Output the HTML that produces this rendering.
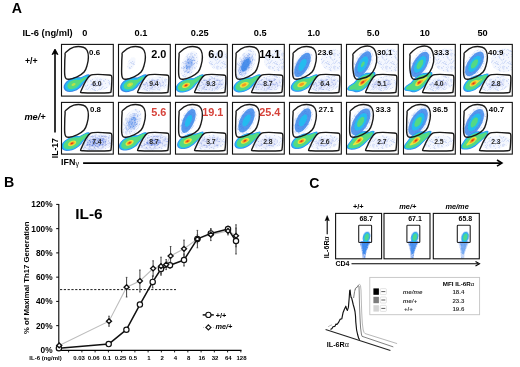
<!DOCTYPE html>
<html><head><meta charset="utf-8"><title>IL-6 Th17 figure</title>
<style>html,body{margin:0;padding:0;background:#fff;width:520px;height:367px;overflow:hidden}
svg text{font-family:'Liberation Sans',sans-serif;}</style></head>
<body>
<svg width="520" height="367" viewBox="0 0 520 367" style="display:block;font-family:'Liberation Sans',sans-serif;filter:blur(0.3px)"><defs>
<filter id="bl1" x="-30%" y="-30%" width="160%" height="160%"><feGaussianBlur stdDeviation="1.2"/></filter>
<filter id="bl2" x="-30%" y="-30%" width="160%" height="160%"><feGaussianBlur stdDeviation="2"/></filter>
<filter id="bl03" x="-10%" y="-10%" width="120%" height="120%"><feGaussianBlur stdDeviation="0.55"/></filter>
<filter id="bl05" x="-30%" y="-30%" width="160%" height="160%"><feGaussianBlur stdDeviation="0.7"/></filter>
<pattern id="pS" width="13" height="13" patternUnits="userSpaceOnUse"><rect width="13" height="13" fill="#f4f7fe"/><path d="M1.1,9.9h0.7v0.7h-0.7zM3.1,11.4h0.7v0.7h-0.7zM10.4,1.3h0.7v0.7h-0.7zM7.6,11.0h0.7v0.7h-0.7zM1.2,5.1h0.7v0.7h-0.7zM5.6,6.2h0.7v0.7h-0.7zM6.2,1.9h0.7v0.7h-0.7zM2.1,9.1h0.7v0.7h-0.7zM9.5,3.8h0.7v0.7h-0.7zM1.5,11.3h0.7v0.7h-0.7zM5.1,3.6h0.7v0.7h-0.7zM6.7,7.3h0.7v0.7h-0.7zM5.6,5.2h0.7v0.7h-0.7zM7.6,8.0h0.7v0.7h-0.7zM9.6,2.6h0.7v0.7h-0.7zM12.4,2.3h0.7v0.7h-0.7zM3.7,9.7h0.7v0.7h-0.7zM8.4,9.8h0.7v0.7h-0.7zM9.1,7.4h0.7v0.7h-0.7zM3.8,12.0h0.7v0.7h-0.7zM0.0,2.7h0.7v0.7h-0.7zM12.7,11.1h0.7v0.7h-0.7zM3.9,2.2h0.7v0.7h-0.7zM4.1,12.5h0.7v0.7h-0.7zM11.6,8.1h0.7v0.7h-0.7zM7.6,7.9h0.7v0.7h-0.7zM6.1,12.6h0.7v0.7h-0.7zM10.1,10.2h0.7v0.7h-0.7zM0.4,10.3h0.7v0.7h-0.7zM9.2,0.7h0.7v0.7h-0.7zM4.9,4.8h0.7v0.7h-0.7zM1.2,1.1h0.7v0.7h-0.7zM8.6,2.5h0.7v0.7h-0.7zM12.1,2.8h0.7v0.7h-0.7zM2.7,11.2h0.7v0.7h-0.7zM8.2,1.6h0.7v0.7h-0.7zM3.9,3.9h0.7v0.7h-0.7zM9.6,6.4h0.7v0.7h-0.7zM9.4,11.0h0.7v0.7h-0.7zM2.8,12.5h0.7v0.7h-0.7zM10.8,9.2h0.7v0.7h-0.7zM8.5,2.8h0.7v0.7h-0.7zM8.9,7.1h0.7v0.7h-0.7zM10.7,9.2h0.7v0.7h-0.7zM5.6,0.7h0.7v0.7h-0.7z" fill="#8aa6ea" opacity="0.7"/></pattern><pattern id="pM" width="13" height="13" patternUnits="userSpaceOnUse"><rect width="13" height="13" fill="#e0e8fb"/><path d="M8.8,12.5h0.65v0.65h-0.65zM4.8,0.0h0.65v0.65h-0.65zM7.7,4.4h0.65v0.65h-0.65zM8.7,10.0h0.65v0.65h-0.65zM8.7,8.9h0.65v0.65h-0.65zM6.8,7.3h0.65v0.65h-0.65zM7.2,8.6h0.65v0.65h-0.65zM2.6,11.4h0.65v0.65h-0.65zM6.4,8.9h0.65v0.65h-0.65zM1.6,7.1h0.65v0.65h-0.65zM6.2,7.3h0.65v0.65h-0.65zM7.0,8.7h0.65v0.65h-0.65zM10.1,4.2h0.65v0.65h-0.65zM5.1,8.7h0.65v0.65h-0.65zM0.3,8.0h0.65v0.65h-0.65zM6.9,10.2h0.65v0.65h-0.65zM2.7,6.2h0.65v0.65h-0.65zM9.6,0.4h0.65v0.65h-0.65zM5.1,7.0h0.65v0.65h-0.65zM4.9,11.1h0.65v0.65h-0.65zM11.8,8.3h0.65v0.65h-0.65zM5.1,8.4h0.65v0.65h-0.65zM4.5,5.1h0.65v0.65h-0.65zM4.5,4.6h0.65v0.65h-0.65zM6.2,9.3h0.65v0.65h-0.65zM1.2,1.0h0.65v0.65h-0.65zM7.1,11.3h0.65v0.65h-0.65zM12.0,11.4h0.65v0.65h-0.65zM7.3,12.5h0.65v0.65h-0.65zM9.7,1.8h0.65v0.65h-0.65zM12.3,1.5h0.65v0.65h-0.65zM10.9,11.6h0.65v0.65h-0.65zM9.7,5.2h0.65v0.65h-0.65zM10.6,3.5h0.65v0.65h-0.65zM10.7,5.0h0.65v0.65h-0.65zM3.3,8.6h0.65v0.65h-0.65zM6.3,2.1h0.65v0.65h-0.65zM4.5,6.3h0.65v0.65h-0.65zM3.4,8.6h0.65v0.65h-0.65zM7.4,9.4h0.65v0.65h-0.65zM4.1,0.2h0.65v0.65h-0.65zM8.0,10.5h0.65v0.65h-0.65zM7.6,5.6h0.65v0.65h-0.65zM1.4,5.7h0.65v0.65h-0.65zM5.8,7.3h0.65v0.65h-0.65zM5.1,3.6h0.65v0.65h-0.65zM9.2,11.5h0.65v0.65h-0.65zM1.1,2.8h0.65v0.65h-0.65zM2.2,7.1h0.65v0.65h-0.65zM6.7,2.2h0.65v0.65h-0.65zM5.3,8.0h0.65v0.65h-0.65zM8.6,11.7h0.65v0.65h-0.65zM4.3,11.5h0.65v0.65h-0.65zM2.6,1.8h0.65v0.65h-0.65zM12.1,8.1h0.65v0.65h-0.65zM3.2,11.6h0.65v0.65h-0.65zM1.9,2.6h0.65v0.65h-0.65zM3.6,5.4h0.65v0.65h-0.65zM4.4,9.3h0.65v0.65h-0.65zM2.9,9.6h0.65v0.65h-0.65zM7.0,5.9h0.65v0.65h-0.65zM12.2,8.3h0.65v0.65h-0.65zM1.6,8.7h0.65v0.65h-0.65zM5.4,4.6h0.65v0.65h-0.65zM8.7,8.5h0.65v0.65h-0.65zM11.5,7.5h0.65v0.65h-0.65zM13.0,9.1h0.65v0.65h-0.65zM1.9,6.7h0.65v0.65h-0.65zM7.0,4.4h0.65v0.65h-0.65zM11.5,5.6h0.65v0.65h-0.65zM0.7,12.0h0.65v0.65h-0.65zM7.6,2.4h0.65v0.65h-0.65zM2.3,1.9h0.65v0.65h-0.65zM10.0,0.2h0.65v0.65h-0.65zM12.2,11.1h0.65v0.65h-0.65zM7.0,12.9h0.65v0.65h-0.65zM0.1,3.1h0.65v0.65h-0.65zM0.8,3.5h0.65v0.65h-0.65zM5.4,2.6h0.65v0.65h-0.65zM11.0,7.8h0.65v0.65h-0.65zM3.1,6.3h0.65v0.65h-0.65zM8.7,10.7h0.65v0.65h-0.65zM5.3,2.7h0.65v0.65h-0.65zM3.4,11.4h0.65v0.65h-0.65zM9.2,6.0h0.65v0.65h-0.65zM4.0,10.5h0.65v0.65h-0.65zM4.8,10.4h0.65v0.65h-0.65zM9.9,11.8h0.65v0.65h-0.65zM6.4,6.5h0.65v0.65h-0.65zM10.2,7.9h0.65v0.65h-0.65zM6.7,7.3h0.65v0.65h-0.65zM2.1,2.5h0.65v0.65h-0.65zM5.8,6.5h0.65v0.65h-0.65zM11.3,12.0h0.65v0.65h-0.65zM7.3,11.8h0.65v0.65h-0.65z" fill="#6a94ea" opacity="0.8"/></pattern><pattern id="pD" width="13" height="13" patternUnits="userSpaceOnUse"><rect width="13" height="13" fill="#b0c6f4"/><path d="M0.3,12.7h0.65v0.65h-0.65zM8.6,11.6h0.65v0.65h-0.65zM4.2,2.8h0.65v0.65h-0.65zM1.8,2.0h0.65v0.65h-0.65zM1.8,6.4h0.65v0.65h-0.65zM10.3,7.5h0.65v0.65h-0.65zM12.5,4.5h0.65v0.65h-0.65zM6.8,7.7h0.65v0.65h-0.65zM5.0,8.8h0.65v0.65h-0.65zM6.6,10.6h0.65v0.65h-0.65zM10.8,3.1h0.65v0.65h-0.65zM9.7,8.4h0.65v0.65h-0.65zM0.8,0.8h0.65v0.65h-0.65zM2.8,0.8h0.65v0.65h-0.65zM11.3,0.7h0.65v0.65h-0.65zM6.4,1.5h0.65v0.65h-0.65zM8.6,10.2h0.65v0.65h-0.65zM10.1,4.8h0.65v0.65h-0.65zM8.3,6.4h0.65v0.65h-0.65zM9.5,5.9h0.65v0.65h-0.65zM7.1,2.7h0.65v0.65h-0.65zM3.0,0.6h0.65v0.65h-0.65zM2.4,2.4h0.65v0.65h-0.65zM12.9,11.2h0.65v0.65h-0.65zM0.1,4.4h0.65v0.65h-0.65zM9.0,5.5h0.65v0.65h-0.65zM11.4,3.4h0.65v0.65h-0.65zM3.0,9.6h0.65v0.65h-0.65zM0.6,9.1h0.65v0.65h-0.65zM5.2,5.0h0.65v0.65h-0.65zM4.3,6.6h0.65v0.65h-0.65zM6.0,5.1h0.65v0.65h-0.65zM5.6,7.5h0.65v0.65h-0.65zM12.2,7.7h0.65v0.65h-0.65zM1.6,7.5h0.65v0.65h-0.65zM12.3,11.7h0.65v0.65h-0.65zM0.6,12.4h0.65v0.65h-0.65zM12.2,0.7h0.65v0.65h-0.65zM4.3,4.9h0.65v0.65h-0.65zM9.5,0.5h0.65v0.65h-0.65zM0.0,4.9h0.65v0.65h-0.65zM5.8,10.4h0.65v0.65h-0.65zM8.8,8.8h0.65v0.65h-0.65zM8.2,7.4h0.65v0.65h-0.65zM10.5,1.1h0.65v0.65h-0.65zM2.0,10.5h0.65v0.65h-0.65zM5.2,8.0h0.65v0.65h-0.65zM8.0,3.9h0.65v0.65h-0.65zM0.4,10.2h0.65v0.65h-0.65zM10.9,0.5h0.65v0.65h-0.65zM5.4,2.4h0.65v0.65h-0.65zM3.2,10.3h0.65v0.65h-0.65zM2.9,0.6h0.65v0.65h-0.65zM8.5,1.7h0.65v0.65h-0.65zM0.6,6.5h0.65v0.65h-0.65zM3.2,9.2h0.65v0.65h-0.65zM4.0,7.7h0.65v0.65h-0.65zM3.4,0.5h0.65v0.65h-0.65zM9.5,3.6h0.65v0.65h-0.65zM7.7,9.2h0.65v0.65h-0.65zM11.8,4.5h0.65v0.65h-0.65zM9.1,2.5h0.65v0.65h-0.65zM3.8,0.0h0.65v0.65h-0.65zM4.2,3.4h0.65v0.65h-0.65zM1.6,12.1h0.65v0.65h-0.65zM3.2,0.6h0.65v0.65h-0.65zM7.9,7.2h0.65v0.65h-0.65zM9.5,11.8h0.65v0.65h-0.65zM3.8,9.1h0.65v0.65h-0.65zM4.5,3.7h0.65v0.65h-0.65zM10.4,8.4h0.65v0.65h-0.65zM12.5,1.6h0.65v0.65h-0.65zM1.1,6.5h0.65v0.65h-0.65zM0.9,3.4h0.65v0.65h-0.65zM9.9,11.4h0.65v0.65h-0.65zM6.4,11.3h0.65v0.65h-0.65zM5.5,9.9h0.65v0.65h-0.65zM8.2,4.9h0.65v0.65h-0.65zM9.9,10.4h0.65v0.65h-0.65zM0.9,12.7h0.65v0.65h-0.65zM12.5,4.8h0.65v0.65h-0.65zM12.5,6.8h0.65v0.65h-0.65zM5.4,2.1h0.65v0.65h-0.65zM6.1,1.4h0.65v0.65h-0.65zM3.5,9.4h0.65v0.65h-0.65zM7.6,0.8h0.65v0.65h-0.65zM2.7,7.8h0.65v0.65h-0.65zM6.9,1.5h0.65v0.65h-0.65zM11.8,8.7h0.65v0.65h-0.65zM6.6,9.8h0.65v0.65h-0.65zM10.8,12.2h0.65v0.65h-0.65zM2.3,5.1h0.65v0.65h-0.65zM11.5,5.1h0.65v0.65h-0.65zM1.6,5.2h0.65v0.65h-0.65zM2.8,9.2h0.65v0.65h-0.65zM9.4,10.2h0.65v0.65h-0.65zM3.9,1.5h0.65v0.65h-0.65zM1.5,4.2h0.65v0.65h-0.65zM1.1,0.7h0.65v0.65h-0.65zM10.3,3.1h0.65v0.65h-0.65zM0.3,9.5h0.65v0.65h-0.65zM0.7,12.2h0.65v0.65h-0.65zM12.3,12.7h0.65v0.65h-0.65zM10.2,0.9h0.65v0.65h-0.65zM4.8,5.2h0.65v0.65h-0.65zM2.5,11.3h0.65v0.65h-0.65zM11.3,6.6h0.65v0.65h-0.65zM10.2,4.5h0.65v0.65h-0.65zM8.7,10.2h0.65v0.65h-0.65zM6.9,11.2h0.65v0.65h-0.65zM6.8,1.9h0.65v0.65h-0.65zM12.7,6.7h0.65v0.65h-0.65zM6.8,1.9h0.65v0.65h-0.65zM1.1,2.3h0.65v0.65h-0.65zM1.0,6.9h0.65v0.65h-0.65zM7.7,3.3h0.65v0.65h-0.65zM9.5,10.5h0.65v0.65h-0.65zM8.2,4.8h0.65v0.65h-0.65zM9.7,2.4h0.65v0.65h-0.65zM3.8,8.2h0.65v0.65h-0.65zM4.8,3.4h0.65v0.65h-0.65zM3.4,0.9h0.65v0.65h-0.65zM4.8,13.0h0.65v0.65h-0.65zM3.5,2.4h0.65v0.65h-0.65zM10.8,1.7h0.65v0.65h-0.65zM1.9,6.2h0.65v0.65h-0.65zM2.7,0.1h0.65v0.65h-0.65zM9.3,10.3h0.65v0.65h-0.65zM5.2,1.0h0.65v0.65h-0.65zM4.4,0.5h0.65v0.65h-0.65z" fill="#3a7ee8" opacity="0.85"/></pattern><pattern id="pL" width="13" height="13" patternUnits="userSpaceOnUse"><rect width="13" height="13" fill="#e8ecfb"/><path d="M12.6,12.9h0.9v0.9h-0.9zM6.7,9.5h0.9v0.9h-0.9zM12.1,5.6h0.9v0.9h-0.9zM11.7,2.6h0.9v0.9h-0.9zM9.5,1.6h0.9v0.9h-0.9zM0.4,5.4h0.9v0.9h-0.9zM8.4,8.5h0.9v0.9h-0.9zM0.8,10.7h0.9v0.9h-0.9zM0.1,6.0h0.9v0.9h-0.9zM11.0,11.1h0.9v0.9h-0.9zM4.0,10.5h0.9v0.9h-0.9zM9.7,11.0h0.9v0.9h-0.9zM6.9,4.3h0.9v0.9h-0.9zM10.2,6.1h0.9v0.9h-0.9zM8.3,2.1h0.9v0.9h-0.9zM12.6,7.6h0.9v0.9h-0.9zM6.2,0.6h0.9v0.9h-0.9zM11.1,6.1h0.9v0.9h-0.9zM10.7,2.1h0.9v0.9h-0.9zM7.6,6.2h0.9v0.9h-0.9zM6.6,2.4h0.9v0.9h-0.9zM5.6,0.0h0.9v0.9h-0.9zM8.4,5.5h0.9v0.9h-0.9zM2.5,5.6h0.9v0.9h-0.9zM5.7,7.0h0.9v0.9h-0.9zM8.4,1.6h0.9v0.9h-0.9zM4.0,6.5h0.9v0.9h-0.9zM2.8,3.9h0.9v0.9h-0.9zM1.4,1.1h0.9v0.9h-0.9zM10.5,5.3h0.9v0.9h-0.9zM11.4,8.7h0.9v0.9h-0.9zM10.8,3.9h0.9v0.9h-0.9zM9.2,9.3h0.9v0.9h-0.9zM7.9,10.3h0.9v0.9h-0.9zM0.8,0.2h0.9v0.9h-0.9zM11.4,2.8h0.9v0.9h-0.9zM6.2,3.7h0.9v0.9h-0.9zM8.9,7.7h0.9v0.9h-0.9zM1.6,6.3h0.9v0.9h-0.9zM9.7,7.4h0.9v0.9h-0.9zM1.9,1.0h0.9v0.9h-0.9zM12.5,3.7h0.9v0.9h-0.9zM9.2,2.1h0.9v0.9h-0.9zM6.9,9.7h0.9v0.9h-0.9zM8.5,8.9h0.9v0.9h-0.9zM3.0,4.0h0.9v0.9h-0.9zM6.5,11.4h0.9v0.9h-0.9zM1.1,1.8h0.9v0.9h-0.9zM3.6,0.2h0.9v0.9h-0.9zM3.7,4.9h0.9v0.9h-0.9zM2.1,8.7h0.9v0.9h-0.9zM5.4,12.3h0.9v0.9h-0.9zM0.8,6.6h0.9v0.9h-0.9zM0.3,1.8h0.9v0.9h-0.9zM4.3,7.8h0.9v0.9h-0.9z" fill="#8a9de2" opacity="0.75"/></pattern><pattern id="pB" width="13" height="13" patternUnits="userSpaceOnUse"><rect width="13" height="13" fill="#c3cff3"/><path d="M0.2,8.4h0.9v0.9h-0.9zM10.6,5.0h0.9v0.9h-0.9zM4.2,12.3h0.9v0.9h-0.9zM1.3,0.9h0.9v0.9h-0.9zM1.9,4.7h0.9v0.9h-0.9zM10.8,10.0h0.9v0.9h-0.9zM11.8,5.1h0.9v0.9h-0.9zM2.4,6.0h0.9v0.9h-0.9zM13.0,4.3h0.9v0.9h-0.9zM11.2,1.3h0.9v0.9h-0.9zM4.3,4.2h0.9v0.9h-0.9zM0.7,11.4h0.9v0.9h-0.9zM2.0,10.0h0.9v0.9h-0.9zM5.7,4.0h0.9v0.9h-0.9zM2.7,8.7h0.9v0.9h-0.9zM2.4,10.3h0.9v0.9h-0.9zM3.5,10.4h0.9v0.9h-0.9zM11.4,0.7h0.9v0.9h-0.9zM0.5,2.1h0.9v0.9h-0.9zM12.0,12.4h0.9v0.9h-0.9zM5.8,3.6h0.9v0.9h-0.9zM9.6,10.1h0.9v0.9h-0.9zM6.7,8.2h0.9v0.9h-0.9zM12.3,11.3h0.9v0.9h-0.9zM2.4,1.0h0.9v0.9h-0.9zM3.3,12.1h0.9v0.9h-0.9zM6.6,11.4h0.9v0.9h-0.9zM6.6,3.1h0.9v0.9h-0.9zM4.3,9.2h0.9v0.9h-0.9zM4.0,0.1h0.9v0.9h-0.9zM1.2,11.2h0.9v0.9h-0.9zM6.5,5.4h0.9v0.9h-0.9zM10.8,9.6h0.9v0.9h-0.9zM11.3,10.3h0.9v0.9h-0.9zM5.4,0.3h0.9v0.9h-0.9zM12.7,11.5h0.9v0.9h-0.9zM12.6,1.4h0.9v0.9h-0.9zM4.2,2.0h0.9v0.9h-0.9zM1.5,5.9h0.9v0.9h-0.9zM10.9,3.3h0.9v0.9h-0.9zM12.2,8.4h0.9v0.9h-0.9zM8.4,2.5h0.9v0.9h-0.9zM12.5,8.1h0.9v0.9h-0.9zM6.2,9.9h0.9v0.9h-0.9zM6.8,12.5h0.9v0.9h-0.9zM1.0,5.2h0.9v0.9h-0.9zM4.8,3.7h0.9v0.9h-0.9zM12.0,7.5h0.9v0.9h-0.9zM1.3,8.5h0.9v0.9h-0.9zM1.8,12.0h0.9v0.9h-0.9zM0.4,7.6h0.9v0.9h-0.9zM6.4,5.7h0.9v0.9h-0.9zM7.8,3.9h0.9v0.9h-0.9zM6.9,9.4h0.9v0.9h-0.9zM11.4,8.3h0.9v0.9h-0.9zM8.8,0.9h0.9v0.9h-0.9zM8.3,3.9h0.9v0.9h-0.9zM7.8,2.2h0.9v0.9h-0.9zM6.6,6.4h0.9v0.9h-0.9zM1.0,5.0h0.9v0.9h-0.9zM1.3,2.1h0.9v0.9h-0.9zM8.4,6.9h0.9v0.9h-0.9zM2.8,8.6h0.9v0.9h-0.9zM5.4,4.4h0.9v0.9h-0.9zM8.4,10.8h0.9v0.9h-0.9zM7.8,1.3h0.9v0.9h-0.9zM3.2,0.7h0.9v0.9h-0.9zM3.5,9.2h0.9v0.9h-0.9zM1.8,7.3h0.9v0.9h-0.9zM8.6,9.8h0.9v0.9h-0.9zM9.4,12.2h0.9v0.9h-0.9zM1.7,6.6h0.9v0.9h-0.9zM3.5,10.6h0.9v0.9h-0.9zM1.9,8.4h0.9v0.9h-0.9zM8.0,6.7h0.9v0.9h-0.9zM3.8,6.5h0.9v0.9h-0.9zM11.3,12.9h0.9v0.9h-0.9zM3.5,4.5h0.9v0.9h-0.9zM8.4,5.5h0.9v0.9h-0.9zM8.3,6.2h0.9v0.9h-0.9zM12.2,8.3h0.9v0.9h-0.9zM9.4,0.8h0.9v0.9h-0.9zM12.1,8.5h0.9v0.9h-0.9zM7.6,0.5h0.9v0.9h-0.9zM0.0,4.9h0.9v0.9h-0.9zM4.2,5.8h0.9v0.9h-0.9zM9.6,7.4h0.9v0.9h-0.9zM4.5,7.4h0.9v0.9h-0.9zM8.6,7.8h0.9v0.9h-0.9zM1.5,0.3h0.9v0.9h-0.9z" fill="#5a78dc" opacity="0.85"/></pattern></defs><text x="11.7" y="12.8" font-size="14.2" font-weight="bold">A</text>
<text x="22.5" y="36.3" font-size="9.3" font-weight="bold" font-style="normal" text-anchor="start" fill="#000" >IL-6 (ng/ml)</text>
<text x="84.7" y="36.2" font-size="9.2" font-weight="bold" font-style="normal" text-anchor="middle" fill="#000" >0</text>
<text x="141" y="36.2" font-size="9.2" font-weight="bold" font-style="normal" text-anchor="middle" fill="#000" >0.1</text>
<text x="199.8" y="36.2" font-size="9.2" font-weight="bold" font-style="normal" text-anchor="middle" fill="#000" >0.25</text>
<text x="260.2" y="36.2" font-size="9.2" font-weight="bold" font-style="normal" text-anchor="middle" fill="#000" >0.5</text>
<text x="313.8" y="36.2" font-size="9.2" font-weight="bold" font-style="normal" text-anchor="middle" fill="#000" >1.0</text>
<text x="373.2" y="36.2" font-size="9.2" font-weight="bold" font-style="normal" text-anchor="middle" fill="#000" >5.0</text>
<text x="424.8" y="36.2" font-size="9.2" font-weight="bold" font-style="normal" text-anchor="middle" fill="#000" >10</text>
<text x="482.6" y="36.2" font-size="9.2" font-weight="bold" font-style="normal" text-anchor="middle" fill="#000" >50</text>
<text x="24.9" y="64.4" font-size="8.8" font-weight="bold" font-style="normal" text-anchor="start" fill="#000" >+/+</text>
<text x="24.4" y="119.9" font-size="9.2" font-weight="bold" font-style="italic" text-anchor="start" fill="#000" >me/+</text>
<g>
<clipPath id="cp00"><rect x="61.5" y="44.4" width="51.8" height="51.7"/></clipPath>
<g clip-path="url(#cp00)">
<path d="M96.1,91.3 89.6,91.2 84.7,89.8 82.9,88.5 82.1,87.3 81.8,85.8 82.3,84.3 84.2,82.0 87.4,80.0 91.6,78.5 96.1,77.6 100.9,77.4 105.1,77.9 108.4,79.1 110.5,80.8 111.2,82.3 111.0,84.0 109.9,85.8 108.2,87.3 102.9,89.9 96.1,91.3Z" fill="url(#pS)"/>
<path d="M96.9,87.3 93.9,87.3 91.6,86.8 90.4,85.8 90.3,84.5 92.1,82.8 96.1,81.5 99.9,81.6 102.4,82.8 102.7,84.0 101.6,85.5 99.8,86.5 96.9,87.3Z" fill="url(#pL)"/>
<g filter="url(#bl03)">
<path d="M72.4,91.8 69.6,92.0 67.4,91.7 65.4,90.8 64.1,89.3 63.6,87.5 63.8,85.5 64.8,83.5 66.4,81.5 69.4,79.2 73.1,77.6 76.4,77.0 80.9,77.2 86.9,74.6 88.6,74.3 89.6,74.6 89.9,75.8 89.0,77.5 84.2,82.5 80.6,87.5 76.9,90.2 72.4,91.8Z" fill="#3a86ea" fill-rule="evenodd" opacity="1"/>
<path d="M72.4,90.8 70.1,91.0 68.1,90.7 66.4,89.8 65.4,88.5 65.0,87.0 65.2,85.3 66.1,83.5 67.6,81.7 70.1,79.9 73.1,78.6 76.1,78.0 80.1,78.2 86.1,75.4 87.6,75.2 88.6,75.5 88.7,76.5 87.7,78.3 82.9,82.8 79.4,87.3 76.1,89.5 72.4,90.8Z" fill="#22c0f0" fill-rule="evenodd" opacity="1"/>
<path d="M72.6,89.0 70.9,89.2 69.4,88.9 68.3,88.3 67.6,87.3 67.4,86.0 67.6,84.8 69.5,82.3 71.1,81.1 73.1,80.3 75.6,79.8 79.4,80.1 84.6,77.2 85.9,76.9 86.5,77.0 86.5,77.8 85.6,79.0 81.0,82.8 77.6,86.6 75.4,88.1 72.6,89.0Z" fill="#55da80" fill-rule="evenodd" opacity="1"/>
<path d="M73.9,85.8 72.9,86.0 71.9,85.8 71.5,85.3 71.6,84.5 73.1,83.2 74.1,83.0 75.1,83.2 75.6,83.8 75.5,84.5 73.9,85.8Z" fill="#b9e04a" fill-rule="evenodd" opacity="1"/>
</g>
</g>
<path d="M65.90,52.30 C67.64,50.66 70.32,48.22 73.80,47.20 C77.28,46.18 80.62,46.50 83.30,47.20 C85.98,47.90 86.18,48.74 87.20,50.70 C88.22,52.66 88.40,54.16 88.40,57.00 C88.40,59.84 88.06,61.90 87.20,64.90 C86.34,67.90 86.14,69.62 84.10,72.00 C82.06,74.38 80.00,75.36 77.00,76.80 C74.00,78.24 71.48,79.20 69.10,79.20 C66.72,79.20 65.98,79.66 65.10,76.80 C64.22,73.94 64.70,69.18 64.70,64.90 C64.70,60.62 64.86,57.92 65.10,55.40 C65.34,52.88 64.16,53.94 65.90,52.30Z" fill="none" stroke="#1a1a1a" stroke-width="1.4"/>
<path d="M90.40,75.40 C93.66,73.56 106.50,74.79 109.00,75.00 C111.50,75.21 111.55,75.38 111.80,77.20 C112.05,79.02 111.46,88.78 111.10,90.60 C110.74,92.42 111.97,92.54 108.70,92.80 C105.43,93.06 86.32,93.03 83.10,92.80 C79.88,92.57 80.25,92.83 81.10,90.80 C81.95,88.77 87.15,77.24 90.40,75.40Z" fill="none" stroke="#1a1a1a" stroke-width="1.4"/>
<rect x="61.5" y="44.4" width="51.8" height="51.7" fill="none" stroke="#111" stroke-width="1.1"/>
<text x="89.1" y="55.099999999999994" font-size="7.9" font-weight="bold" font-style="normal" text-anchor="start" fill="#000" >0.6</text>
<text x="96.9" y="85.8" font-size="6.8" font-weight="bold" font-style="normal" text-anchor="middle" fill="#262626" >6.0</text>
</g>
<g>
<clipPath id="cp01"><rect x="61.5" y="102.4" width="51.8" height="51.7"/></clipPath>
<g clip-path="url(#cp01)">
<path d="M94.4,151.3 86.6,150.9 80.9,148.9 79.1,147.5 78.0,145.8 77.8,144.0 78.5,142.0 80.9,139.3 84.6,137.0 89.4,135.1 94.9,133.9 100.6,133.4 105.9,133.8 110.1,134.9 113.4,136.8 113.4,144.3 111.7,145.8 108.6,147.7 104.4,149.4 99.6,150.6 94.4,151.3Z" fill="url(#pS)"/>
<path d="M95.6,149.8 89.1,149.7 83.9,148.1 82.1,146.9 81.1,145.5 80.8,144.0 81.3,142.3 83.4,139.9 86.7,137.8 91.1,136.1 96.1,135.1 101.1,134.9 105.6,135.5 109.1,136.7 111.4,138.5 112.1,140.3 111.9,142.0 110.8,143.8 108.8,145.5 102.9,148.4 95.6,149.8Z" fill="url(#pL)"/>
<path d="M96.6,147.0 92.4,147.1 88.9,146.3 86.7,144.5 86.7,142.5 87.8,141.0 90.1,139.5 96.1,137.8 102.4,138.0 104.6,138.8 106.1,140.0 106.4,142.0 104.6,144.3 101.1,146.0 96.6,147.0Z" fill="url(#pB)"/>
<g filter="url(#bl03)">
<path d="M69.4,150.8 66.6,150.9 64.4,150.5 62.6,149.5 61.7,148.3 61.7,144.5 62.9,142.5 64.6,140.7 67.9,138.4 71.6,136.7 75.4,135.9 79.9,135.9 86.6,132.6 88.4,132.3 89.6,132.6 89.9,133.8 88.8,135.8 83.4,141.0 81.1,144.3 79.4,146.1 77.1,147.8 74.6,149.2 72.1,150.2 69.4,150.8Z" fill="#3a86ea" fill-rule="evenodd" opacity="1"/>
<path d="M68.9,150.3 66.6,150.3 64.6,149.8 63.1,148.8 62.3,147.5 62.2,145.8 62.7,144.0 63.9,142.3 65.6,140.5 68.4,138.7 71.9,137.2 75.1,136.5 79.6,136.5 86.4,133.1 88.1,132.8 89.1,133.2 89.1,134.5 88.0,136.3 82.6,141.3 80.1,144.5 78.4,146.3 73.9,149.0 71.4,149.8 68.9,150.3Z" fill="#22c0f0" fill-rule="evenodd" opacity="1"/>
<path d="M68.6,149.3 66.9,149.1 65.4,148.6 64.3,147.8 63.7,146.5 63.7,145.3 64.2,143.8 65.3,142.3 66.9,140.7 69.4,139.1 71.9,138.1 74.9,137.5 79.1,137.6 85.4,134.1 87.1,133.7 88.0,134.0 88.0,135.0 86.8,136.8 81.4,141.3 78.8,144.5 77.1,146.1 72.9,148.4 68.6,149.3Z" fill="#55da80" fill-rule="evenodd" opacity="1"/>
<path d="M71.9,146.0 69.9,146.2 68.4,145.7 67.9,144.5 68.6,143.0 70.1,141.7 72.1,140.8 74.1,140.5 75.7,141.0 76.3,142.0 75.7,143.5 74.1,145.0 71.9,146.0Z" fill="#e8e43c" fill-rule="evenodd" opacity="1"/>
<path d="M71.9,145.1 70.6,145.2 69.7,144.8 69.4,144.0 70.0,143.0 70.9,142.3 72.4,141.7 73.6,141.6 74.4,142.0 74.6,142.8 74.1,143.7 71.9,145.1Z" fill="#f39a22" fill-rule="evenodd" opacity="1"/>
<path d="M71.6,144.3 70.8,144.0 70.9,143.3 72.1,142.5 73.1,142.7 73.1,143.5 71.6,144.3Z" fill="#e2341c" fill-rule="evenodd" opacity="1"/>
</g>
</g>
<path d="M65.90,110.30 C67.64,108.66 70.32,106.22 73.80,105.20 C77.28,104.18 80.62,104.50 83.30,105.20 C85.98,105.90 86.18,106.74 87.20,108.70 C88.22,110.66 88.40,112.16 88.40,115.00 C88.40,117.84 88.06,119.90 87.20,122.90 C86.34,125.90 86.14,127.62 84.10,130.00 C82.06,132.38 80.00,133.36 77.00,134.80 C74.00,136.24 71.48,137.20 69.10,137.20 C66.72,137.20 65.98,137.66 65.10,134.80 C64.22,131.94 64.70,127.18 64.70,122.90 C64.70,118.62 64.86,115.92 65.10,113.40 C65.34,110.88 64.16,111.94 65.90,110.30Z" fill="none" stroke="#1a1a1a" stroke-width="1.4"/>
<path d="M90.40,133.40 C93.66,131.56 106.50,132.79 109.00,133.00 C111.50,133.21 111.55,133.38 111.80,135.20 C112.05,137.02 111.46,146.78 111.10,148.60 C110.74,150.42 111.97,150.54 108.70,150.80 C105.43,151.06 86.32,151.03 83.10,150.80 C79.88,150.57 80.25,150.83 81.10,148.80 C81.95,146.77 87.15,135.24 90.40,133.40Z" fill="none" stroke="#1a1a1a" stroke-width="1.4"/>
<rect x="61.5" y="102.4" width="51.8" height="51.7" fill="none" stroke="#111" stroke-width="1.1"/>
<text x="90.0" y="112.4" font-size="7.9" font-weight="bold" font-style="normal" text-anchor="start" fill="#000" >0.8</text>
<text x="96.9" y="143.8" font-size="6.8" font-weight="bold" font-style="normal" text-anchor="middle" fill="#262626" >7.4</text>
</g>
<g>
<clipPath id="cp10"><rect x="118.5" y="44.4" width="51.8" height="51.7"/></clipPath>
<g clip-path="url(#cp10)">
<path d="M152.1,92.0 145.4,91.8 140.1,90.1 138.5,88.8 137.5,87.3 137.4,85.8 138.0,84.0 140.3,81.5 143.9,79.4 148.4,77.8 153.4,76.9 158.4,76.7 163.1,77.3 166.6,78.6 168.9,80.5 169.6,82.3 169.4,84.0 168.1,86.0 166.0,87.8 159.9,90.6 152.1,92.0Z" fill="url(#pS)"/>
<path d="M153.9,89.5 148.9,89.6 144.9,88.6 142.6,86.8 142.6,84.5 143.9,82.8 146.2,81.3 152.9,79.3 159.6,79.4 162.4,80.3 164.0,81.5 164.6,83.8 162.8,86.3 159.1,88.3 153.9,89.5Z" fill="url(#pL)"/>
<path d="M130.4,69.6 128.9,69.4 127.7,68.0 127.4,65.8 127.8,63.3 128.8,60.8 130.4,58.7 132.1,57.4 133.9,57.3 134.9,58.0 135.5,59.5 135.2,63.5 133.1,67.6 131.9,68.8 130.4,69.6Z" fill="url(#pS)"/>
<g filter="url(#bl03)">
<path d="M128.6,92.0 125.9,92.2 123.6,91.8 121.9,90.9 120.6,89.5 120.1,87.8 120.3,85.8 121.4,83.5 123.1,81.5 126.4,79.1 129.9,77.7 133.1,77.2 137.4,77.5 143.9,74.6 145.6,74.3 146.6,74.6 146.9,75.8 146.0,77.5 140.5,83.0 137.0,87.8 133.4,90.4 128.6,92.0Z" fill="#3a86ea" fill-rule="evenodd" opacity="1"/>
<path d="M128.6,91.0 126.4,91.2 124.4,90.8 122.7,89.8 121.8,88.5 121.5,87.0 121.8,85.3 122.7,83.5 124.3,81.8 126.9,79.9 129.9,78.7 132.9,78.2 136.9,78.5 143.1,75.5 144.6,75.2 145.6,75.5 145.7,76.5 144.7,78.3 139.4,83.0 135.8,87.5 132.4,89.9 128.6,91.0Z" fill="#22c0f0" fill-rule="evenodd" opacity="1"/>
<path d="M129.6,89.3 127.9,89.5 126.1,89.3 124.9,88.7 124.0,87.8 123.7,86.5 123.8,85.3 124.6,83.8 125.9,82.4 128.1,80.9 130.6,80.1 136.6,80.1 141.4,77.2 142.9,76.7 143.6,76.9 143.6,77.8 142.7,79.0 137.6,82.9 134.1,87.0 132.1,88.4 129.6,89.3Z" fill="#55da80" fill-rule="evenodd" opacity="1"/>
<path d="M130.1,86.8 128.6,86.9 127.5,86.5 127.0,85.5 127.3,84.5 128.2,83.5 129.6,82.7 131.1,82.4 132.5,82.8 133.1,83.5 132.8,84.8 131.7,86.0 130.1,86.8Z" fill="#b9e04a" fill-rule="evenodd" opacity="1"/>
<path d="M129.9,85.6 128.9,85.3 129.0,84.5 130.1,83.8 131.1,84.0 130.9,85.0 129.9,85.6Z" fill="#e8e43c" fill-rule="evenodd" opacity="1"/>
</g>
</g>
<path d="M122.90,52.30 C124.64,50.66 127.32,48.22 130.80,47.20 C134.28,46.18 137.62,46.50 140.30,47.20 C142.98,47.90 143.18,48.74 144.20,50.70 C145.22,52.66 145.40,54.16 145.40,57.00 C145.40,59.84 145.06,61.90 144.20,64.90 C143.34,67.90 143.14,69.62 141.10,72.00 C139.06,74.38 137.00,75.36 134.00,76.80 C131.00,78.24 128.48,79.20 126.10,79.20 C123.72,79.20 122.98,79.66 122.10,76.80 C121.22,73.94 121.70,69.18 121.70,64.90 C121.70,60.62 121.86,57.92 122.10,55.40 C122.34,52.88 121.16,53.94 122.90,52.30Z" fill="none" stroke="#1a1a1a" stroke-width="1.4"/>
<path d="M147.40,75.40 C150.66,73.56 163.50,74.79 166.00,75.00 C168.50,75.21 168.56,75.38 168.80,77.20 C169.05,79.02 168.46,88.78 168.10,90.60 C167.74,92.42 168.97,92.54 165.70,92.80 C162.43,93.06 143.32,93.03 140.10,92.80 C136.88,92.57 137.25,92.83 138.10,90.80 C138.95,88.77 144.15,77.24 147.40,75.40Z" fill="none" stroke="#1a1a1a" stroke-width="1.4"/>
<rect x="118.5" y="44.4" width="51.8" height="51.7" fill="none" stroke="#111" stroke-width="1.1"/>
<text x="166.4" y="58.0" font-size="10.9" font-weight="bold" font-style="normal" text-anchor="end" fill="#000" >2.0</text>
<text x="153.9" y="85.8" font-size="6.8" font-weight="bold" font-style="normal" text-anchor="middle" fill="#262626" >9.4</text>
</g>
<g>
<clipPath id="cp11"><rect x="118.5" y="102.4" width="51.8" height="51.7"/></clipPath>
<g clip-path="url(#cp11)">
<path d="M151.9,151.0 144.1,150.7 138.4,148.8 136.6,147.5 135.5,145.8 135.3,144.0 135.9,142.0 138.1,139.5 141.9,137.1 146.9,135.2 152.4,134.0 157.9,133.7 163.1,134.1 167.4,135.4 170.4,137.3 170.4,143.8 168.2,145.8 165.1,147.7 160.9,149.4 151.9,151.0Z" fill="url(#pS)"/>
<path d="M151.4,149.5 145.4,149.2 140.8,147.5 139.4,146.3 138.6,144.8 138.6,143.3 139.3,141.8 141.5,139.5 144.9,137.7 149.1,136.2 153.9,135.4 158.6,135.3 162.9,135.9 166.1,137.3 168.0,139.0 168.5,140.8 168.0,142.5 164.7,145.8 158.6,148.4 151.4,149.5Z" fill="url(#pL)"/>
<path d="M153.1,146.0 149.9,146.0 147.4,145.3 146.0,144.0 146.1,142.3 148.9,140.0 153.4,138.8 158.1,139.0 160.9,140.5 161.1,142.3 159.5,144.0 156.8,145.3 153.1,146.0Z" fill="url(#pB)"/>
<path d="M129.1,136.3 127.4,136.3 125.6,135.7 124.1,134.3 123.2,132.5 122.5,127.8 123.5,122.0 125.9,116.5 129.6,111.9 131.9,110.2 133.9,109.2 135.9,108.8 137.6,109.1 140.1,111.0 141.5,114.3 141.7,118.5 140.7,123.3 138.8,127.8 135.8,132.0 132.6,134.9 129.1,136.3Z" fill="url(#pS)"/>
<path d="M129.6,132.3 127.2,131.5 125.7,129.3 125.3,126.0 126.1,122.0 127.9,118.1 130.4,115.0 133.1,113.3 135.9,113.1 137.6,114.3 138.6,116.5 138.8,119.8 138.1,123.3 136.5,126.8 134.4,129.6 131.9,131.6 129.6,132.3Z" fill="url(#pM)"/>
<path d="M130.9,128.8 129.1,128.5 128.1,127.3 127.7,125.0 128.1,122.5 129.3,119.8 130.9,117.8 132.9,116.5 134.6,116.4 135.7,117.3 136.4,118.8 136.1,122.8 133.9,126.8 132.4,128.2 130.9,128.8Z" fill="url(#pD)"/>
<g filter="url(#bl03)">
<path d="M126.1,150.5 123.6,150.5 121.4,150.0 119.9,148.9 119.1,147.5 118.9,145.8 119.5,143.8 120.8,141.8 122.6,139.9 125.9,137.6 129.9,135.9 133.4,135.2 137.6,135.3 143.9,132.6 145.6,132.3 146.6,132.6 146.9,133.8 145.8,135.8 140.5,141.0 136.4,145.9 134.1,147.6 131.6,149.0 128.9,150.0 126.1,150.5Z" fill="#3a86ea" fill-rule="evenodd" opacity="1"/>
<path d="M127.1,149.8 124.6,150.0 122.6,149.6 121.0,148.8 120.0,147.5 119.8,145.8 120.2,144.0 121.4,142.0 123.1,140.2 126.4,137.9 129.9,136.4 133.1,135.8 137.1,135.9 143.6,133.0 145.1,132.8 146.1,133.2 146.1,134.5 145.0,136.3 139.9,141.0 135.9,145.6 131.6,148.4 127.1,149.8Z" fill="#22c0f0" fill-rule="evenodd" opacity="1"/>
<path d="M127.4,148.8 125.1,148.9 123.4,148.5 122.1,147.7 121.4,146.5 121.3,145.0 121.8,143.5 122.7,142.0 124.4,140.3 126.9,138.7 129.9,137.4 132.6,136.9 136.6,137.0 142.6,134.0 144.1,133.7 145.0,134.0 145.0,135.0 143.8,136.8 138.5,141.3 134.6,145.5 131.1,147.6 127.4,148.8Z" fill="#55da80" fill-rule="evenodd" opacity="1"/>
<path d="M128.4,145.8 126.6,145.7 125.6,144.8 125.6,143.5 126.6,142.0 128.4,140.8 130.4,140.1 132.1,140.0 133.6,140.8 133.7,142.0 132.4,143.8 130.6,145.1 128.4,145.8Z" fill="#e8e43c" fill-rule="evenodd" opacity="1"/>
<path d="M129.4,144.6 128.1,144.7 127.4,144.5 127.0,143.8 127.3,142.8 129.4,141.3 130.6,141.0 131.7,141.3 132.1,142.0 131.7,143.0 130.6,144.0 129.4,144.6Z" fill="#f39a22" fill-rule="evenodd" opacity="1"/>
<path d="M129.1,143.8 128.3,143.5 128.5,142.8 129.6,142.0 130.6,142.1 130.8,142.5 130.6,143.0 129.1,143.8Z" fill="#e2341c" fill-rule="evenodd" opacity="1"/>
</g>
</g>
<path d="M122.90,110.30 C124.64,108.66 127.32,106.22 130.80,105.20 C134.28,104.18 137.62,104.50 140.30,105.20 C142.98,105.90 143.18,106.74 144.20,108.70 C145.22,110.66 145.40,112.16 145.40,115.00 C145.40,117.84 145.06,119.90 144.20,122.90 C143.34,125.90 143.14,127.62 141.10,130.00 C139.06,132.38 137.00,133.36 134.00,134.80 C131.00,136.24 128.48,137.20 126.10,137.20 C123.72,137.20 122.98,137.66 122.10,134.80 C121.22,131.94 121.70,127.18 121.70,122.90 C121.70,118.62 121.86,115.92 122.10,113.40 C122.34,110.88 121.16,111.94 122.90,110.30Z" fill="none" stroke="#1a1a1a" stroke-width="1.4"/>
<path d="M147.40,133.40 C150.66,131.56 163.50,132.79 166.00,133.00 C168.50,133.21 168.56,133.38 168.80,135.20 C169.05,137.02 168.46,146.78 168.10,148.60 C167.74,150.42 168.97,150.54 165.70,150.80 C162.43,151.06 143.32,151.03 140.10,150.80 C136.88,150.57 137.25,150.83 138.10,148.80 C138.95,146.77 144.15,135.24 147.40,133.40Z" fill="none" stroke="#1a1a1a" stroke-width="1.4"/>
<rect x="118.5" y="102.4" width="51.8" height="51.7" fill="none" stroke="#111" stroke-width="1.1"/>
<text x="166.4" y="116.0" font-size="10.9" font-weight="bold" font-style="normal" text-anchor="end" fill="#d6423a" >5.6</text>
<text x="153.9" y="143.8" font-size="6.8" font-weight="bold" font-style="normal" text-anchor="middle" fill="#262626" >8.7</text>
</g>
<g>
<clipPath id="cp20"><rect x="175.5" y="44.4" width="51.8" height="51.7"/></clipPath>
<g clip-path="url(#cp20)">
<path d="M220.9,70.0 216.6,69.8 213.0,68.3 210.1,65.6 208.6,62.3 208.6,58.5 210.1,55.3 212.9,52.6 216.6,51.0 219.6,50.7 222.4,51.0 225.1,52.0 227.4,53.6 227.4,67.2 224.6,69.0 220.9,70.0ZM208.9,92.5 201.6,92.2 196.4,90.5 194.5,89.0 193.6,87.5 193.4,85.8 194.0,84.0 196.6,81.3 200.9,78.9 206.9,76.9 214.1,75.3 217.9,75.2 221.1,75.9 224.4,77.6 226.7,79.8 227.4,81.0 227.4,84.0 226.1,86.0 224.1,87.8 217.4,91.0 208.9,92.5Z" fill="url(#pS)"/>
<path d="M210.4,90.6 204.6,90.5 200.0,89.3 197.6,87.0 197.3,85.8 197.7,84.3 199.4,82.3 202.4,80.5 206.4,79.0 210.9,78.1 214.9,77.9 218.4,78.3 221.1,79.4 223.0,81.0 223.6,82.3 223.6,83.8 221.2,86.8 216.4,89.2 210.4,90.6Z" fill="url(#pL)"/>
<path d="M186.9,77.5 185.1,77.8 183.4,77.3 182.0,76.3 181.1,74.8 180.2,70.3 181.1,64.5 183.6,58.8 187.1,54.1 191.1,51.5 192.9,51.1 194.6,51.2 196.8,52.8 198.1,55.8 198.4,59.8 197.5,64.3 195.7,68.8 193.1,72.8 190.1,75.8 186.9,77.5Z" fill="url(#pS)"/>
<path d="M186.9,73.5 184.6,72.8 183.4,70.8 183.1,67.5 183.9,63.8 185.7,60.0 188.1,57.1 190.9,55.4 193.1,55.5 194.6,56.7 195.4,58.8 195.4,61.8 194.7,65.0 193.2,68.3 191.4,70.8 189.1,72.7 186.9,73.5Z" fill="url(#pM)"/>
<path d="M188.1,69.8 186.9,69.6 185.9,68.4 185.6,66.5 186.0,64.3 187.0,62.0 188.4,60.3 189.9,59.2 191.4,59.0 192.4,59.7 192.9,60.8 192.6,64.5 190.6,68.1 188.1,69.8Z" fill="url(#pD)"/>
<g filter="url(#bl03)">
<path d="M182.9,92.5 180.4,92.5 178.4,92.0 176.9,91.1 175.9,89.8 175.7,88.0 176.1,86.3 177.4,84.3 179.1,82.5 182.1,80.4 185.6,79.0 189.1,78.3 193.6,78.2 200.6,74.7 202.4,74.3 203.6,74.6 203.8,76.0 202.8,77.8 197.2,83.0 194.6,86.5 192.9,88.3 190.6,89.9 188.1,91.2 185.4,92.1 182.9,92.5Z" fill="#3a86ea" fill-rule="evenodd" opacity="1"/>
<path d="M184.4,91.8 181.9,92.0 179.6,91.7 177.9,90.9 176.9,89.8 176.5,88.3 176.8,86.5 177.7,84.8 179.4,83.0 182.4,80.9 185.4,79.6 188.9,78.8 193.4,78.8 200.1,75.2 202.1,74.8 203.1,75.2 203.1,76.5 202.0,78.3 196.4,83.3 192.6,87.8 188.6,90.4 184.4,91.8Z" fill="#22c0f0" fill-rule="evenodd" opacity="1"/>
<path d="M184.9,90.8 182.6,91.0 180.6,90.8 179.1,90.1 178.2,89.0 177.9,87.8 178.2,86.3 179.1,84.8 180.6,83.1 182.9,81.6 185.4,80.5 188.6,79.8 192.9,79.9 199.1,76.2 200.9,75.7 202.0,76.0 202.0,77.0 200.8,78.8 195.2,83.3 191.5,87.5 188.4,89.6 184.9,90.8Z" fill="#55da80" fill-rule="evenodd" opacity="1"/>
<path d="M185.4,88.0 183.6,88.1 182.4,87.4 182.1,86.3 182.9,84.8 184.5,83.5 186.4,82.8 188.4,82.7 189.7,83.3 190.0,84.5 189.1,86.0 187.5,87.3 185.4,88.0Z" fill="#e8e43c" fill-rule="evenodd" opacity="1"/>
<path d="M185.6,87.1 184.4,87.1 183.6,86.5 183.6,85.8 184.0,85.0 186.1,83.8 187.4,83.7 188.2,84.0 188.5,84.8 188.0,85.8 187.1,86.5 185.6,87.1Z" fill="#f39a22" fill-rule="evenodd" opacity="1"/>
<path d="M186.4,86.0 185.1,86.2 184.8,85.5 185.6,84.8 186.9,84.6 187.2,85.3 186.4,86.0Z" fill="#e2341c" fill-rule="evenodd" opacity="1"/>
</g>
</g>
<path d="M179.90,52.30 C181.64,50.66 184.32,48.22 187.80,47.20 C191.28,46.18 194.62,46.50 197.30,47.20 C199.98,47.90 200.18,48.74 201.20,50.70 C202.22,52.66 202.40,54.16 202.40,57.00 C202.40,59.84 202.06,61.90 201.20,64.90 C200.34,67.90 200.14,69.62 198.10,72.00 C196.06,74.38 194.00,75.36 191.00,76.80 C188.00,78.24 185.48,79.20 183.10,79.20 C180.72,79.20 179.98,79.66 179.10,76.80 C178.22,73.94 178.70,69.18 178.70,64.90 C178.70,60.62 178.86,57.92 179.10,55.40 C179.34,52.88 178.16,53.94 179.90,52.30Z" fill="none" stroke="#1a1a1a" stroke-width="1.4"/>
<path d="M204.40,75.40 C207.66,73.56 220.50,74.79 223.00,75.00 C225.50,75.21 225.56,75.38 225.80,77.20 C226.05,79.02 225.46,88.78 225.10,90.60 C224.74,92.42 225.97,92.54 222.70,92.80 C219.43,93.06 200.32,93.03 197.10,92.80 C193.88,92.57 194.25,92.83 195.10,90.80 C195.95,88.77 201.15,77.24 204.40,75.40Z" fill="none" stroke="#1a1a1a" stroke-width="1.4"/>
<rect x="175.5" y="44.4" width="51.8" height="51.7" fill="none" stroke="#111" stroke-width="1.1"/>
<text x="223.4" y="58.0" font-size="10.9" font-weight="bold" font-style="normal" text-anchor="end" fill="#000" >6.0</text>
<text x="210.9" y="85.8" font-size="6.8" font-weight="bold" font-style="normal" text-anchor="middle" fill="#262626" >9.3</text>
</g>
<g>
<clipPath id="cp21"><rect x="175.5" y="102.4" width="51.8" height="51.7"/></clipPath>
<g clip-path="url(#cp21)">
<path d="M207.9,150.3 201.4,149.8 196.4,148.0 194.8,146.5 194.1,145.0 194.0,143.5 194.8,141.8 197.2,139.3 200.9,137.2 205.6,135.6 210.9,134.7 216.1,134.5 220.6,135.2 224.1,136.5 226.4,138.5 227.0,140.3 226.6,142.3 225.2,144.3 222.9,146.1 215.9,149.1 207.9,150.3Z" fill="url(#pS)"/>
<path d="M209.9,148.0 204.9,147.9 200.8,146.8 198.7,144.8 198.9,142.3 200.4,140.5 203.2,138.8 210.4,136.8 214.1,136.7 217.6,137.1 220.2,138.0 222.0,139.5 222.5,140.8 222.3,142.0 220.0,144.8 215.4,147.0 209.9,148.0Z" fill="url(#pL)"/>
<path d="M184.6,135.0 182.9,134.9 181.6,134.2 180.6,132.9 179.9,131.0 179.7,126.0 181.0,120.3 183.8,114.3 187.1,109.9 190.9,107.2 192.6,106.7 194.1,106.9 195.4,107.6 196.3,108.8 197.3,112.0 197.2,116.5 196.0,121.5 193.8,126.5 190.9,130.8 187.6,133.8 184.6,135.0Z" fill="url(#pS)"/>
<path d="M186.4,130.3 185.1,130.4 184.1,130.0 182.9,128.2 182.5,125.0 183.3,121.0 185.0,117.0 187.4,113.7 189.9,111.8 192.1,111.4 193.6,112.5 194.4,114.5 194.4,117.5 193.7,120.8 192.4,124.0 190.6,127.0 188.4,129.3 186.4,130.3Z" fill="url(#pM)"/>
<path d="M187.6,126.0 186.4,126.1 185.4,125.0 185.2,123.3 185.6,121.0 186.5,118.8 187.9,116.9 189.4,115.8 190.6,115.7 191.4,116.3 191.8,117.5 191.4,120.8 189.9,124.0 187.6,126.0Z" fill="url(#pD)"/>
<g filter="url(#bl03)">
<path d="M184.6,133.0 183.6,132.9 182.6,132.3 181.8,131.0 181.4,129.5 181.4,125.3 182.7,120.3 185.1,115.3 187.9,111.5 190.9,109.2 192.1,108.8 193.4,108.9 195.0,110.3 195.7,113.3 195.5,117.0 194.3,121.5 192.2,126.0 189.8,129.5 187.1,132.1 184.6,133.0Z" fill="#3a86ea" fill-rule="evenodd" opacity="0.84"/>
<path d="M187.1,126.8 185.9,126.8 185.1,125.8 184.9,123.8 185.5,121.0 186.5,118.5 187.9,116.5 189.4,115.2 190.9,114.9 191.6,115.4 192.1,116.8 192.1,118.5 191.5,120.8 189.6,124.6 188.4,126.0 187.1,126.8Z" fill="#22c0f0" fill-rule="evenodd" opacity="0.9"/>
<path d="M184.1,149.1 181.6,149.1 179.6,148.6 178.0,147.5 177.2,146.0 177.1,144.3 177.7,142.3 179.1,140.0 181.1,138.0 184.9,135.4 189.1,133.7 192.4,133.2 196.1,133.6 201.6,131.7 202.9,131.6 203.6,132.0 203.7,133.5 202.3,135.8 193.9,144.5 189.4,147.4 186.9,148.4 184.1,149.1Z" fill="#3a86ea" fill-rule="evenodd" opacity="1"/>
<path d="M185.1,148.3 182.6,148.5 180.6,148.2 179.0,147.3 178.1,145.8 178.0,144.0 178.5,142.3 179.7,140.3 181.6,138.2 184.9,135.9 188.6,134.4 191.9,133.9 195.6,134.2 201.1,132.2 202.4,132.1 203.0,132.5 203.0,134.0 201.7,136.0 193.6,144.0 189.6,146.7 185.1,148.3Z" fill="#22c0f0" fill-rule="evenodd" opacity="1"/>
<path d="M185.1,147.3 183.1,147.4 181.4,147.0 180.1,146.1 179.5,145.0 179.4,143.5 180.0,141.8 181.2,140.0 182.9,138.4 185.6,136.6 188.6,135.4 191.4,135.0 194.9,135.3 200.1,133.2 201.1,133.0 201.9,133.3 201.9,134.5 200.6,136.5 192.6,143.7 188.9,146.1 185.1,147.3Z" fill="#55da80" fill-rule="evenodd" opacity="1"/>
<path d="M186.9,144.1 184.9,144.1 183.7,143.3 183.7,141.8 184.8,140.3 186.6,138.9 188.6,138.2 190.4,138.3 191.7,139.0 192.0,140.0 191.0,141.5 189.1,143.1 186.9,144.1Z" fill="#e8e43c" fill-rule="evenodd" opacity="1"/>
<path d="M186.9,143.1 185.7,143.0 185.1,142.5 185.0,141.8 185.6,140.8 187.9,139.4 189.1,139.3 189.9,139.7 190.1,140.5 189.6,141.5 188.3,142.5 186.9,143.1Z" fill="#f39a22" fill-rule="evenodd" opacity="1"/>
<path d="M187.4,142.1 186.4,142.0 186.5,141.0 187.6,140.3 188.6,140.4 188.6,141.3 187.4,142.1Z" fill="#e2341c" fill-rule="evenodd" opacity="1"/>
</g>
</g>
<path d="M179.90,110.30 C181.64,108.66 184.32,106.22 187.80,105.20 C191.28,104.18 194.62,104.50 197.30,105.20 C199.98,105.90 200.18,106.74 201.20,108.70 C202.22,110.66 202.40,112.16 202.40,115.00 C202.40,117.84 202.06,119.90 201.20,122.90 C200.34,125.90 200.14,127.62 198.10,130.00 C196.06,132.38 194.00,133.36 191.00,134.80 C188.00,136.24 185.48,137.20 183.10,137.20 C180.72,137.20 179.98,137.66 179.10,134.80 C178.22,131.94 178.70,127.18 178.70,122.90 C178.70,118.62 178.86,115.92 179.10,113.40 C179.34,110.88 178.16,111.94 179.90,110.30Z" fill="none" stroke="#1a1a1a" stroke-width="1.4"/>
<path d="M204.40,133.40 C207.66,131.56 220.50,132.79 223.00,133.00 C225.50,133.21 225.56,133.38 225.80,135.20 C226.05,137.02 225.46,146.78 225.10,148.60 C224.74,150.42 225.97,150.54 222.70,150.80 C219.43,151.06 200.32,151.03 197.10,150.80 C193.88,150.57 194.25,150.83 195.10,148.80 C195.95,146.77 201.15,135.24 204.40,133.40Z" fill="none" stroke="#1a1a1a" stroke-width="1.4"/>
<rect x="175.5" y="102.4" width="51.8" height="51.7" fill="none" stroke="#111" stroke-width="1.1"/>
<text x="223.4" y="116.0" font-size="10.9" font-weight="bold" font-style="normal" text-anchor="end" fill="#d6423a" >19.1</text>
<text x="210.9" y="143.8" font-size="6.8" font-weight="bold" font-style="normal" text-anchor="middle" fill="#262626" >3.7</text>
</g>
<g>
<clipPath id="cp30"><rect x="232.5" y="44.4" width="51.8" height="51.7"/></clipPath>
<g clip-path="url(#cp30)">
<path d="M276.9,71.5 272.1,70.8 267.9,68.5 265.0,65.0 263.9,60.8 264.6,56.6 267.1,53.0 271.1,50.4 275.9,49.4 280.4,49.9 284.4,51.7 284.4,69.1 280.9,70.8 276.9,71.5ZM265.9,92.5 258.6,92.2 253.4,90.5 251.5,89.0 250.6,87.5 250.4,85.8 251.0,84.0 253.6,81.3 257.9,78.9 263.9,76.9 271.9,75.1 275.1,75.0 278.1,75.7 281.4,77.5 283.7,79.8 284.4,81.0 284.4,84.0 283.1,86.0 281.1,87.8 274.4,91.0 265.9,92.5Z" fill="url(#pS)"/>
<path d="M267.4,90.6 261.6,90.5 257.0,89.3 254.6,87.0 254.3,85.8 254.7,84.3 256.4,82.3 259.4,80.5 263.4,79.0 267.9,78.1 271.9,77.9 275.4,78.3 278.1,79.4 280.1,81.0 280.6,82.3 280.6,83.8 278.2,86.8 273.4,89.2 267.4,90.6Z" fill="url(#pL)"/>
<path d="M241.4,79.5 239.4,79.6 237.6,79.0 236.4,77.8 235.5,76.0 235.0,73.5 235.0,70.8 236.5,64.3 239.7,57.8 244.1,52.5 246.4,50.7 248.6,49.6 250.6,49.1 252.6,49.4 254.8,51.3 256.0,54.8 255.8,59.5 254.5,64.5 252.0,69.8 248.6,74.5 244.9,77.9 241.4,79.5Z" fill="url(#pS)"/>
<path d="M242.6,75.5 241.1,75.7 239.9,75.3 238.9,74.5 238.1,73.0 237.7,69.3 238.8,64.5 241.1,59.8 244.3,55.8 247.6,53.5 249.1,53.1 250.6,53.3 252.3,54.5 253.2,57.0 253.2,60.3 252.2,64.3 250.5,68.0 248.1,71.5 245.4,74.1 242.6,75.5Z" fill="url(#pM)"/>
<path d="M243.1,72.5 241.1,72.1 240.0,70.3 239.9,67.5 240.8,64.0 242.6,60.5 244.9,57.9 247.4,56.4 249.4,56.4 250.6,57.5 251.1,59.4 251.0,62.0 250.2,64.8 248.9,67.5 247.0,70.0 245.1,71.7 243.1,72.5Z" fill="url(#pD)"/>
<g filter="url(#bl03)">
<path d="M243.6,71.3 242.1,71.1 241.2,69.5 241.3,67.3 242.0,64.5 243.5,61.8 245.4,59.7 247.1,58.6 248.6,58.6 249.5,59.5 249.8,61.0 249.7,62.8 249.0,65.3 246.5,69.3 244.9,70.7 243.6,71.3Z" fill="#3a86ea" fill-rule="evenodd" opacity="0.84"/>
<path d="M241.4,92.3 238.6,92.4 236.4,92.0 234.6,91.0 233.7,89.8 233.3,88.0 233.6,86.3 234.7,84.3 236.5,82.3 239.9,79.9 243.9,78.1 247.1,77.4 251.6,77.3 257.9,74.6 259.6,74.3 260.6,74.6 260.9,75.8 260.0,77.5 255.3,82.5 253.1,85.8 251.5,87.5 249.4,89.2 246.9,90.6 244.1,91.7 241.4,92.3Z" fill="#3a86ea" fill-rule="evenodd" opacity="1"/>
<path d="M240.9,91.8 238.6,91.8 236.6,91.3 235.1,90.3 234.3,89.0 234.2,87.5 234.6,85.8 235.7,84.0 237.4,82.3 240.4,80.2 243.9,78.7 246.9,78.0 251.1,77.9 257.6,75.0 259.1,74.8 260.1,75.2 260.2,76.3 259.2,78.0 254.5,82.8 250.6,87.5 246.1,90.4 243.4,91.3 240.9,91.8Z" fill="#22c0f0" fill-rule="evenodd" opacity="1"/>
<path d="M240.6,90.8 238.9,90.6 237.4,90.1 236.3,89.3 235.7,88.0 235.7,86.8 236.2,85.3 237.3,83.8 238.8,82.3 241.4,80.6 243.9,79.6 246.6,79.1 250.6,79.0 256.6,76.0 258.1,75.7 259.0,76.0 259.0,77.0 258.1,78.5 253.4,82.8 249.2,87.5 244.9,89.9 240.6,90.8Z" fill="#55da80" fill-rule="evenodd" opacity="1"/>
<path d="M243.4,87.8 241.4,87.8 240.0,87.0 239.8,85.5 240.8,84.0 242.6,82.7 244.9,82.0 246.9,82.0 248.6,82.7 248.8,83.3 248.6,84.0 247.2,85.8 245.4,87.1 243.4,87.8Z" fill="#e8e43c" fill-rule="evenodd" opacity="1"/>
<path d="M243.4,86.5 242.4,86.5 241.8,86.0 241.7,85.3 242.2,84.5 244.1,83.4 245.4,83.2 246.2,83.5 246.5,84.3 245.9,85.3 244.9,86.0 243.4,86.5Z" fill="#f39a22" fill-rule="evenodd" opacity="1"/>
</g>
</g>
<path d="M236.90,52.30 C238.64,50.66 241.32,48.22 244.80,47.20 C248.28,46.18 251.62,46.50 254.30,47.20 C256.98,47.90 257.18,48.74 258.20,50.70 C259.22,52.66 259.40,54.16 259.40,57.00 C259.40,59.84 259.06,61.90 258.20,64.90 C257.34,67.90 257.14,69.62 255.10,72.00 C253.06,74.38 251.00,75.36 248.00,76.80 C245.00,78.24 242.48,79.20 240.10,79.20 C237.72,79.20 236.98,79.66 236.10,76.80 C235.22,73.94 235.70,69.18 235.70,64.90 C235.70,60.62 235.86,57.92 236.10,55.40 C236.34,52.88 235.16,53.94 236.90,52.30Z" fill="none" stroke="#1a1a1a" stroke-width="1.4"/>
<path d="M261.40,75.40 C264.65,73.56 277.50,74.79 280.00,75.00 C282.50,75.21 282.56,75.38 282.80,77.20 C283.05,79.02 282.46,88.78 282.10,90.60 C281.74,92.42 282.97,92.54 279.70,92.80 C276.43,93.06 257.32,93.03 254.10,92.80 C250.88,92.57 251.25,92.83 252.10,90.80 C252.95,88.77 258.14,77.24 261.40,75.40Z" fill="none" stroke="#1a1a1a" stroke-width="1.4"/>
<rect x="232.5" y="44.4" width="51.8" height="51.7" fill="none" stroke="#111" stroke-width="1.1"/>
<text x="280.4" y="58.0" font-size="10.9" font-weight="bold" font-style="normal" text-anchor="end" fill="#000" >14.1</text>
<text x="267.9" y="85.8" font-size="6.8" font-weight="bold" font-style="normal" text-anchor="middle" fill="#262626" >8.7</text>
</g>
<g>
<clipPath id="cp31"><rect x="232.5" y="102.4" width="51.8" height="51.7"/></clipPath>
<g clip-path="url(#cp31)">
<path d="M267.4,149.8 260.6,149.8 255.1,148.4 253.3,147.3 252.0,145.8 251.6,144.3 252.0,142.5 254.0,140.0 257.4,137.8 261.9,136.1 266.9,135.1 272.1,134.8 276.6,135.3 280.4,136.7 282.6,138.5 283.3,140.3 283.1,142.0 282.0,143.8 280.1,145.5 274.6,148.2 267.4,149.8Z" fill="url(#pS)"/>
<path d="M267.6,147.3 263.1,147.3 259.4,146.4 257.3,144.8 257.2,142.5 258.3,141.0 260.5,139.5 266.9,137.6 273.4,137.7 275.9,138.5 277.5,139.8 277.9,142.0 276.1,144.3 272.4,146.2 267.6,147.3Z" fill="url(#pL)"/>
<path d="M242.4,134.5 240.4,134.4 238.9,133.6 237.6,132.3 236.8,130.3 236.5,125.3 238.0,119.3 241.0,113.5 245.1,108.9 249.4,106.5 251.4,106.2 253.1,106.6 255.4,108.5 256.5,112.0 256.4,116.5 255.0,121.5 252.5,126.5 249.4,130.5 245.9,133.3 242.4,134.5Z" fill="url(#pS)"/>
<path d="M244.4,129.8 241.9,129.6 240.9,128.8 240.1,127.6 239.7,124.3 240.5,120.3 242.6,116.1 245.4,112.9 248.4,111.1 250.9,111.1 252.4,112.3 253.2,114.5 253.2,117.3 252.5,120.5 251.0,123.8 249.0,126.5 246.6,128.7 244.4,129.8Z" fill="url(#pM)"/>
<path d="M245.6,125.5 244.1,125.6 243.1,124.8 242.7,123.0 243.1,120.5 244.2,118.3 245.6,116.4 247.4,115.3 248.9,115.2 249.7,115.8 250.2,117.0 249.9,120.3 248.1,123.5 245.6,125.5Z" fill="url(#pD)"/>
<g filter="url(#bl03)">
<path d="M243.4,132.3 241.9,132.5 240.4,132.1 239.4,131.2 238.6,129.8 238.3,125.8 239.5,120.5 241.9,115.5 245.4,111.2 247.4,109.6 249.1,108.7 250.6,108.3 252.1,108.5 253.1,109.1 253.9,110.0 254.7,112.5 254.6,116.3 253.5,120.3 251.5,124.5 249.1,128.0 246.1,130.9 243.4,132.3Z" fill="#3a86ea" fill-rule="evenodd" opacity="0.84"/>
<path d="M245.1,126.3 243.6,126.3 242.6,125.2 242.4,123.3 243.0,120.5 244.2,118.0 245.9,115.9 247.9,114.5 249.4,114.5 250.2,115.3 250.6,116.5 250.5,118.3 250.0,120.3 247.9,124.1 246.6,125.4 245.1,126.3Z" fill="#22c0f0" fill-rule="evenodd" opacity="0.9"/>
<path d="M241.1,148.8 238.6,148.8 236.6,148.2 235.2,147.0 234.5,145.5 234.5,143.5 235.3,141.5 236.6,139.5 238.6,137.5 242.4,135.0 246.4,133.4 249.6,132.9 253.4,133.3 258.6,131.7 259.9,131.6 260.6,132.0 260.7,133.5 259.3,135.8 251.1,144.2 248.9,145.9 246.1,147.4 243.4,148.4 241.1,148.8Z" fill="#3a86ea" fill-rule="evenodd" opacity="1"/>
<path d="M242.1,148.1 239.6,148.2 237.7,147.8 236.1,146.8 235.4,145.5 235.3,143.8 235.9,141.8 237.2,139.8 239.1,137.8 242.6,135.4 246.4,134.0 249.4,133.6 252.9,133.9 258.1,132.2 259.4,132.1 260.0,132.5 260.0,134.0 258.7,136.0 250.9,143.7 246.6,146.6 242.1,148.1Z" fill="#22c0f0" fill-rule="evenodd" opacity="1"/>
<path d="M242.1,147.0 240.1,147.1 238.6,146.7 237.4,145.8 236.8,144.5 236.8,143.0 237.4,141.3 238.7,139.5 240.2,138.0 243.1,136.1 245.9,135.1 248.6,134.7 252.1,135.1 257.1,133.1 258.1,133.0 258.9,133.3 258.9,134.5 257.6,136.5 249.9,143.4 246.1,145.8 242.1,147.0Z" fill="#55da80" fill-rule="evenodd" opacity="1"/>
<path d="M243.9,143.8 241.9,143.7 240.9,142.8 241.1,141.3 242.4,139.7 244.4,138.4 246.4,137.9 247.9,138.1 249.4,139.0 249.4,140.0 247.8,141.8 245.9,143.1 243.9,143.8Z" fill="#e8e43c" fill-rule="evenodd" opacity="1"/>
<path d="M243.9,142.8 242.9,142.7 242.4,142.2 242.4,141.4 242.9,140.5 245.1,139.1 246.4,139.0 247.1,139.3 247.5,140.3 246.9,141.3 245.5,142.3 243.9,142.8Z" fill="#f39a22" fill-rule="evenodd" opacity="1"/>
<path d="M244.6,141.8 243.6,141.6 243.8,140.8 244.9,140.0 245.9,140.0 246.1,140.5 245.9,141.0 244.6,141.8Z" fill="#e2341c" fill-rule="evenodd" opacity="1"/>
</g>
</g>
<path d="M236.90,110.30 C238.64,108.66 241.32,106.22 244.80,105.20 C248.28,104.18 251.62,104.50 254.30,105.20 C256.98,105.90 257.18,106.74 258.20,108.70 C259.22,110.66 259.40,112.16 259.40,115.00 C259.40,117.84 259.06,119.90 258.20,122.90 C257.34,125.90 257.14,127.62 255.10,130.00 C253.06,132.38 251.00,133.36 248.00,134.80 C245.00,136.24 242.48,137.20 240.10,137.20 C237.72,137.20 236.98,137.66 236.10,134.80 C235.22,131.94 235.70,127.18 235.70,122.90 C235.70,118.62 235.86,115.92 236.10,113.40 C236.34,110.88 235.16,111.94 236.90,110.30Z" fill="none" stroke="#1a1a1a" stroke-width="1.4"/>
<path d="M261.40,133.40 C264.65,131.56 277.50,132.79 280.00,133.00 C282.50,133.21 282.56,133.38 282.80,135.20 C283.05,137.02 282.46,146.78 282.10,148.60 C281.74,150.42 282.97,150.54 279.70,150.80 C276.43,151.06 257.32,151.03 254.10,150.80 C250.88,150.57 251.25,150.83 252.10,148.80 C252.95,146.77 258.14,135.24 261.40,133.40Z" fill="none" stroke="#1a1a1a" stroke-width="1.4"/>
<rect x="232.5" y="102.4" width="51.8" height="51.7" fill="none" stroke="#111" stroke-width="1.1"/>
<text x="280.4" y="116.0" font-size="10.9" font-weight="bold" font-style="normal" text-anchor="end" fill="#d6423a" >25.4</text>
<text x="267.9" y="143.8" font-size="6.8" font-weight="bold" font-style="normal" text-anchor="middle" fill="#262626" >2.8</text>
</g>
<g>
<clipPath id="cp40"><rect x="289.5" y="44.4" width="51.8" height="51.7"/></clipPath>
<g clip-path="url(#cp40)">
<path d="M335.9,71.3 331.4,71.4 326.9,69.8 323.4,67.0 321.4,63.5 320.9,59.5 322.1,55.5 324.9,52.3 329.1,50.0 332.4,49.4 335.6,49.5 338.6,50.3 341.4,51.7 341.4,69.1 338.6,70.5 335.9,71.3ZM321.9,92.3 315.4,91.8 310.4,90.0 308.8,88.5 308.1,87.0 308.0,85.5 308.8,83.8 311.4,81.2 315.6,78.9 321.9,76.9 329.1,75.4 332.4,75.4 335.1,76.2 338.1,77.9 340.2,80.0 341.0,82.0 340.7,84.0 339.5,86.0 337.1,88.0 330.4,90.9 321.9,92.3Z" fill="url(#pS)"/>
<path d="M323.9,90.0 318.9,89.9 314.8,88.8 312.7,86.8 312.9,84.3 314.4,82.5 317.2,80.8 324.6,78.7 331.4,78.8 334.1,79.8 335.9,81.3 336.4,82.5 336.3,84.0 334.0,86.8 329.4,89.0 323.9,90.0Z" fill="url(#pL)"/>
<path d="M298.4,79.1 296.4,79.1 294.9,78.5 293.6,77.2 292.7,75.3 292.5,70.3 294.0,64.3 297.2,58.3 301.4,53.6 305.6,51.0 307.6,50.6 309.4,50.9 311.5,52.8 312.6,56.0 312.4,60.5 311.0,65.5 308.6,70.3 305.4,74.5 301.9,77.6 298.4,79.1Z" fill="url(#pS)"/>
<path d="M300.1,74.3 297.6,74.2 296.1,72.3 295.7,69.0 296.7,64.8 298.7,60.8 301.6,57.4 304.6,55.5 307.1,55.5 308.6,56.8 309.2,58.8 309.2,61.8 308.3,65.0 306.7,68.3 304.8,71.0 302.4,73.2 300.1,74.3Z" fill="url(#pM)"/>
<path d="M301.4,70.1 299.9,70.1 298.9,69.0 298.7,67.3 299.2,65.0 300.4,62.6 301.9,60.8 303.6,59.7 305.1,59.7 305.9,60.4 306.3,61.5 305.8,64.8 303.9,68.2 301.4,70.1Z" fill="url(#pD)"/>
<g filter="url(#bl03)">
<path d="M298.4,77.0 296.9,77.0 295.8,76.5 294.9,75.4 294.3,73.8 294.2,71.8 294.4,69.3 296.0,64.3 298.7,59.3 302.1,55.3 305.6,53.0 307.1,52.7 308.6,53.0 310.2,54.5 310.8,57.5 310.4,61.3 309.0,65.5 306.8,69.8 304.1,73.3 301.1,75.9 298.4,77.0Z" fill="#3a86ea" fill-rule="evenodd" opacity="0.84"/>
<path d="M300.9,70.9 299.4,70.8 298.5,69.8 298.4,67.8 299.1,65.0 300.4,62.4 302.1,60.3 303.9,59.0 305.4,58.9 306.2,59.5 306.6,60.8 306.6,62.5 305.9,64.8 303.6,68.7 302.1,70.2 300.9,70.9Z" fill="#22c0f0" fill-rule="evenodd" opacity="0.9"/>
<path d="M298.4,91.8 295.9,91.8 293.6,91.3 291.9,90.3 291.0,89.0 290.7,87.3 291.1,85.5 292.3,83.5 294.1,81.6 297.6,79.2 301.4,77.7 304.6,77.0 309.1,76.9 315.1,74.5 316.6,74.3 317.6,74.6 317.9,75.8 317.0,77.5 308.9,87.2 306.6,88.9 303.9,90.3 300.9,91.4 298.4,91.8Z" fill="#3a86ea" fill-rule="evenodd" opacity="1"/>
<path d="M299.6,91.1 297.1,91.3 294.9,91.0 293.1,90.2 292.1,89.0 291.6,87.5 291.8,85.8 292.7,84.0 294.5,82.0 297.9,79.6 301.4,78.2 304.4,77.6 308.9,77.4 315.1,74.9 316.4,74.8 317.1,75.2 317.2,76.3 316.3,78.0 308.5,86.8 304.6,89.4 299.6,91.1Z" fill="#22c0f0" fill-rule="evenodd" opacity="1"/>
<path d="M299.9,90.1 297.6,90.2 295.6,89.9 294.1,89.1 293.4,88.1 293.1,86.8 293.4,85.3 294.3,83.8 295.9,82.1 298.4,80.4 301.4,79.1 304.1,78.6 308.1,78.5 313.9,75.9 315.4,75.7 316.0,76.0 316.0,77.0 315.1,78.5 307.3,86.5 303.9,88.8 299.9,90.1Z" fill="#55da80" fill-rule="evenodd" opacity="1"/>
<path d="M300.6,87.3 298.6,87.2 297.3,86.3 297.4,84.8 298.9,83.0 300.9,81.9 302.9,81.4 304.9,81.6 306.8,82.3 306.2,83.8 304.5,85.5 302.6,86.7 300.6,87.3Z" fill="#e8e43c" fill-rule="evenodd" opacity="1"/>
<path d="M300.6,86.0 299.6,85.8 299.2,85.3 299.3,84.5 299.9,83.8 302.1,82.8 303.1,82.8 304.0,83.3 304.0,84.0 303.2,85.0 301.9,85.8 300.6,86.0Z" fill="#f39a22" fill-rule="evenodd" opacity="1"/>
</g>
</g>
<path d="M293.90,52.30 C295.64,50.66 298.32,48.22 301.80,47.20 C305.28,46.18 308.62,46.50 311.30,47.20 C313.98,47.90 314.18,48.74 315.20,50.70 C316.22,52.66 316.40,54.16 316.40,57.00 C316.40,59.84 316.06,61.90 315.20,64.90 C314.34,67.90 314.14,69.62 312.10,72.00 C310.06,74.38 308.00,75.36 305.00,76.80 C302.00,78.24 299.48,79.20 297.10,79.20 C294.72,79.20 293.98,79.66 293.10,76.80 C292.22,73.94 292.70,69.18 292.70,64.90 C292.70,60.62 292.86,57.92 293.10,55.40 C293.34,52.88 292.16,53.94 293.90,52.30Z" fill="none" stroke="#1a1a1a" stroke-width="1.4"/>
<path d="M318.40,75.40 C321.65,73.56 334.50,74.79 337.00,75.00 C339.50,75.21 339.56,75.38 339.80,77.20 C340.05,79.02 339.46,88.78 339.10,90.60 C338.74,92.42 339.97,92.54 336.70,92.80 C333.43,93.06 314.32,93.03 311.10,92.80 C307.88,92.57 308.25,92.83 309.10,90.80 C309.95,88.77 315.14,77.24 318.40,75.40Z" fill="none" stroke="#1a1a1a" stroke-width="1.4"/>
<rect x="289.5" y="44.4" width="51.8" height="51.7" fill="none" stroke="#111" stroke-width="1.1"/>
<text x="317.5" y="55.099999999999994" font-size="7.9" font-weight="bold" font-style="normal" text-anchor="start" fill="#000" >23.6</text>
<text x="324.9" y="85.8" font-size="6.8" font-weight="bold" font-style="normal" text-anchor="middle" fill="#262626" >6.4</text>
</g>
<g>
<clipPath id="cp41"><rect x="289.5" y="102.4" width="51.8" height="51.7"/></clipPath>
<g clip-path="url(#cp41)">
<path d="M321.9,149.8 315.9,149.3 311.2,147.5 309.8,146.3 309.1,144.8 309.1,143.3 309.8,141.8 312.0,139.5 315.6,137.5 320.1,136.0 324.9,135.2 329.6,135.0 333.9,135.6 337.4,137.0 339.4,138.8 340.0,140.5 339.6,142.3 338.4,144.0 336.1,145.9 329.6,148.6 321.9,149.8Z" fill="url(#pS)"/>
<path d="M324.4,146.8 320.2,146.8 316.9,145.8 315.3,144.3 315.4,142.3 316.7,140.8 318.8,139.5 324.4,138.0 330.1,138.3 332.2,139.0 333.4,140.0 333.8,142.0 332.1,144.1 328.9,145.8 324.4,146.8Z" fill="url(#pL)"/>
<path d="M298.9,134.5 296.9,134.4 295.4,133.6 294.1,132.3 293.3,130.3 293.0,125.3 294.5,119.3 297.5,113.5 301.6,108.9 305.9,106.5 307.9,106.2 309.6,106.6 311.9,108.5 313.0,112.0 312.9,116.5 311.5,121.5 309.0,126.5 305.9,130.5 302.4,133.3 298.9,134.5Z" fill="url(#pS)"/>
<path d="M300.9,129.8 298.4,129.6 297.4,128.8 296.6,127.6 296.2,124.3 297.0,120.3 299.1,116.1 301.9,112.9 304.9,111.1 307.4,111.1 308.9,112.3 309.7,114.5 309.7,117.3 309.0,120.5 307.5,123.8 305.5,126.5 303.1,128.7 300.9,129.8Z" fill="url(#pM)"/>
<path d="M302.1,125.5 300.6,125.6 299.6,124.8 299.2,123.0 299.6,120.5 300.7,118.3 302.1,116.4 303.9,115.3 305.4,115.2 306.2,115.8 306.7,117.0 306.4,120.3 304.6,123.5 302.1,125.5Z" fill="url(#pD)"/>
<g filter="url(#bl03)">
<path d="M299.9,132.3 298.4,132.5 296.9,132.1 295.9,131.2 295.1,129.8 294.8,125.8 296.0,120.5 298.4,115.5 301.9,111.2 303.9,109.6 305.6,108.7 307.1,108.3 308.6,108.5 309.6,109.1 310.4,110.0 311.2,112.5 311.1,116.3 310.0,120.3 308.0,124.5 305.6,128.0 302.6,130.9 299.9,132.3Z" fill="#3a86ea" fill-rule="evenodd" opacity="0.84"/>
<path d="M301.6,126.3 300.1,126.3 299.1,125.2 298.9,123.3 299.5,120.5 300.7,118.0 302.4,115.9 304.4,114.5 305.9,114.5 306.7,115.3 307.1,116.5 307.0,118.3 306.5,120.3 304.4,124.1 303.1,125.4 301.6,126.3Z" fill="#22c0f0" fill-rule="evenodd" opacity="0.9"/>
<path d="M298.1,149.1 295.6,149.1 293.6,148.6 292.0,147.5 291.2,146.0 291.1,144.3 291.7,142.3 293.1,140.0 295.1,138.0 298.9,135.4 303.1,133.7 306.4,133.2 310.1,133.6 315.6,131.7 316.9,131.6 317.6,132.0 317.7,133.5 316.3,135.8 307.9,144.5 303.4,147.4 300.9,148.4 298.1,149.1Z" fill="#3a86ea" fill-rule="evenodd" opacity="1"/>
<path d="M299.1,148.3 296.6,148.5 294.6,148.2 293.0,147.3 292.1,145.8 292.0,144.0 292.5,142.3 293.7,140.3 295.6,138.2 298.9,135.9 302.6,134.4 305.9,133.9 309.6,134.2 315.1,132.2 316.4,132.1 317.0,132.5 317.0,134.0 315.7,136.0 307.6,144.0 303.6,146.7 299.1,148.3Z" fill="#22c0f0" fill-rule="evenodd" opacity="1"/>
<path d="M299.1,147.3 297.1,147.4 295.4,147.0 294.1,146.1 293.5,145.0 293.4,143.5 294.0,141.8 295.2,140.0 296.9,138.4 299.6,136.6 302.6,135.4 305.4,135.0 308.9,135.3 314.1,133.2 315.1,133.0 315.9,133.3 315.9,134.5 314.6,136.5 306.6,143.7 302.9,146.1 299.1,147.3Z" fill="#55da80" fill-rule="evenodd" opacity="1"/>
<path d="M300.9,144.1 298.9,144.1 297.7,143.3 297.7,141.8 298.8,140.3 300.6,138.9 302.6,138.2 304.4,138.3 305.7,139.0 306.0,140.0 305.0,141.5 303.1,143.1 300.9,144.1Z" fill="#e8e43c" fill-rule="evenodd" opacity="1"/>
<path d="M300.9,143.1 299.7,143.0 299.1,142.5 299.0,141.8 299.6,140.8 301.9,139.4 303.1,139.3 303.9,139.7 304.1,140.5 303.6,141.5 302.3,142.5 300.9,143.1Z" fill="#f39a22" fill-rule="evenodd" opacity="1"/>
<path d="M301.4,142.1 300.4,142.0 300.5,141.0 301.6,140.3 302.6,140.4 302.6,141.3 301.4,142.1Z" fill="#e2341c" fill-rule="evenodd" opacity="1"/>
</g>
</g>
<path d="M293.90,110.30 C295.64,108.66 298.32,106.22 301.80,105.20 C305.28,104.18 308.62,104.50 311.30,105.20 C313.98,105.90 314.18,106.74 315.20,108.70 C316.22,110.66 316.40,112.16 316.40,115.00 C316.40,117.84 316.06,119.90 315.20,122.90 C314.34,125.90 314.14,127.62 312.10,130.00 C310.06,132.38 308.00,133.36 305.00,134.80 C302.00,136.24 299.48,137.20 297.10,137.20 C294.72,137.20 293.98,137.66 293.10,134.80 C292.22,131.94 292.70,127.18 292.70,122.90 C292.70,118.62 292.86,115.92 293.10,113.40 C293.34,110.88 292.16,111.94 293.90,110.30Z" fill="none" stroke="#1a1a1a" stroke-width="1.4"/>
<path d="M318.40,133.40 C321.65,131.56 334.50,132.79 337.00,133.00 C339.50,133.21 339.56,133.38 339.80,135.20 C340.05,137.02 339.46,146.78 339.10,148.60 C338.74,150.42 339.97,150.54 336.70,150.80 C333.43,151.06 314.32,151.03 311.10,150.80 C307.88,150.57 308.25,150.83 309.10,148.80 C309.95,146.77 315.14,135.24 318.40,133.40Z" fill="none" stroke="#1a1a1a" stroke-width="1.4"/>
<rect x="289.5" y="102.4" width="51.8" height="51.7" fill="none" stroke="#111" stroke-width="1.1"/>
<text x="318.5" y="112.4" font-size="7.9" font-weight="bold" font-style="normal" text-anchor="start" fill="#000" >27.1</text>
<text x="324.9" y="143.8" font-size="6.8" font-weight="bold" font-style="normal" text-anchor="middle" fill="#262626" >2.6</text>
</g>
<g>
<clipPath id="cp50"><rect x="346.5" y="44.4" width="51.8" height="51.7"/></clipPath>
<g clip-path="url(#cp50)">
<path d="M392.4,72.3 387.6,72.2 382.5,70.0 379.0,66.8 377.1,62.5 377.2,58.0 379.1,53.9 382.9,50.5 387.4,48.8 393.1,48.7 398.4,50.7 398.4,70.1 395.4,71.5 392.4,72.3ZM380.6,91.8 374.1,91.7 368.9,90.1 367.1,88.9 366.1,87.5 365.8,86.0 366.3,84.3 368.5,81.8 372.4,79.5 377.6,77.7 385.4,75.9 388.4,75.7 390.9,76.2 393.6,77.6 396.1,79.8 397.0,81.5 397.1,83.5 396.2,85.3 394.4,87.1 388.4,90.2 380.6,91.8Z" fill="url(#pS)"/>
<path d="M381.6,89.0 377.4,89.1 373.9,88.3 371.7,86.5 371.7,84.5 372.8,83.0 375.1,81.5 381.4,79.7 387.4,79.8 389.5,80.5 391.0,81.8 391.4,84.0 389.6,86.2 386.1,88.0 381.6,89.0Z" fill="url(#pL)"/>
<path d="M357.6,79.3 355.9,79.0 354.3,78.0 353.1,76.4 352.4,74.3 352.4,68.8 354.2,62.5 357.5,56.5 361.6,52.0 363.9,50.4 366.1,49.4 368.1,49.1 369.9,49.5 371.1,50.2 372.2,51.5 373.3,55.3 373.1,60.3 371.4,65.8 368.7,71.0 365.1,75.4 361.4,78.2 357.6,79.3Z" fill="url(#pS)"/>
<path d="M359.9,74.3 358.6,74.3 357.4,73.7 356.0,71.5 355.7,67.8 356.8,63.5 359.1,59.3 361.9,56.1 364.9,54.3 367.5,54.3 369.1,55.7 369.9,58.0 369.8,61.3 368.8,64.8 367.1,68.3 364.9,71.2 362.4,73.3 359.9,74.3Z" fill="url(#pM)"/>
<path d="M361.4,69.8 359.9,69.6 359.1,68.5 358.8,66.5 359.4,64.0 360.6,61.6 362.1,59.8 363.9,58.7 365.4,58.7 366.2,59.3 366.7,60.5 366.2,64.3 364.1,67.9 361.4,69.8Z" fill="url(#pD)"/>
<g filter="url(#bl03)">
<path d="M358.6,77.0 357.1,77.0 355.9,76.4 354.9,75.3 354.3,73.5 354.3,69.0 355.8,63.8 358.5,58.5 362.1,54.1 363.9,52.7 365.9,51.6 367.4,51.3 368.9,51.5 369.9,52.1 370.7,53.3 371.5,56.3 371.2,60.0 369.8,64.8 367.5,69.3 364.6,73.1 361.4,75.9 358.6,77.0Z" fill="#3a86ea" fill-rule="evenodd" opacity="0.84"/>
<path d="M360.6,72.1 359.6,72.2 358.6,71.9 357.6,70.3 357.5,67.5 358.3,64.3 360.1,60.8 362.4,57.9 364.6,56.4 366.6,56.4 367.6,57.3 368.2,59.3 368.0,61.5 367.2,64.3 365.9,67.0 364.3,69.3 362.4,71.2 360.6,72.1Z" fill="#22c0f0" fill-rule="evenodd" opacity="0.9"/>
<path d="M361.9,67.0 361.4,66.9 360.9,66.3 361.3,64.0 362.6,62.0 363.4,61.5 364.1,61.4 364.7,62.5 364.4,64.3 363.1,66.2 361.9,67.0Z" fill="#55da80" fill-rule="evenodd" opacity="0.95"/>
<path d="M357.1,92.3 355.4,92.2 352.7,91.3 348.4,90.6 347.2,89.5 347.3,88.0 349.1,85.8 353.7,82.8 358.6,77.2 362.4,74.4 366.6,72.8 370.1,72.7 373.9,71.8 375.1,72.2 375.5,73.5 374.5,76.0 369.7,83.5 367.7,86.0 365.1,88.5 362.4,90.5 359.6,91.8 357.1,92.3Z" fill="#3a86ea" fill-rule="evenodd" opacity="1"/>
<path d="M357.1,91.5 353.4,90.7 348.9,90.3 347.8,89.3 347.9,88.0 349.6,85.9 354.2,83.0 358.4,78.1 362.4,75.1 366.1,73.6 369.6,73.4 373.4,72.4 374.6,72.7 374.9,74.0 374.0,76.3 367.1,86.0 364.9,88.1 362.1,90.0 359.4,91.2 357.1,91.5Z" fill="#22c0f0" fill-rule="evenodd" opacity="1"/>
<path d="M358.9,90.1 357.1,90.1 354.1,89.6 350.4,89.7 349.1,89.0 349.0,88.0 350.4,86.2 355.0,83.5 358.7,79.0 362.1,76.4 365.1,75.1 368.6,74.6 372.4,73.4 373.6,73.6 373.9,74.8 372.9,77.0 366.8,85.0 362.9,88.4 360.9,89.5 358.9,90.1Z" fill="#55da80" fill-rule="evenodd" opacity="1"/>
<path d="M361.1,86.1 359.1,86.1 358.4,85.0 358.9,83.0 360.6,80.7 363.1,79.0 366.6,78.2 369.9,76.7 370.6,76.8 370.5,77.5 369.6,78.8 365.1,83.3 363.1,85.1 361.1,86.1Z" fill="#e8e43c" fill-rule="evenodd" opacity="1"/>
<path d="M361.6,84.8 360.4,84.8 359.9,84.0 360.2,82.8 361.4,81.3 363.4,80.1 367.7,79.3 364.0,83.3 361.6,84.8Z" fill="#f39a22" fill-rule="evenodd" opacity="1"/>
<path d="M361.6,83.8 361.1,83.5 361.1,83.0 361.9,81.8 363.3,81.0 364.3,81.3 363.5,82.8 361.6,83.8Z" fill="#e2341c" fill-rule="evenodd" opacity="1"/>
</g>
</g>
<path d="M353.80,53.10 C355.70,51.06 358.72,47.90 362.50,46.80 C366.28,45.70 369.86,45.56 372.70,47.60 C375.54,49.64 376.22,53.02 376.70,57.00 C377.18,60.98 376.52,63.82 375.10,67.50 C373.68,71.18 372.44,73.16 369.60,75.40 C366.76,77.64 363.76,78.10 360.90,78.70 C358.04,79.30 356.88,80.20 355.30,78.40 C353.72,76.60 353.46,73.98 353.00,69.70 C352.54,65.42 352.84,60.32 353.00,57.00 C353.16,53.68 351.90,55.14 353.80,53.10Z" fill="none" stroke="#1a1a1a" stroke-width="1.4"/>
<path d="M375.40,75.40 C378.65,73.56 391.50,74.79 394.00,75.00 C396.50,75.21 396.56,75.38 396.80,77.20 C397.05,79.02 396.46,88.78 396.10,90.60 C395.74,92.42 396.97,92.54 393.70,92.80 C390.43,93.06 371.32,93.03 368.10,92.80 C364.88,92.57 365.25,92.83 366.10,90.80 C366.95,88.77 372.14,77.24 375.40,75.40Z" fill="none" stroke="#1a1a1a" stroke-width="1.4"/>
<rect x="346.5" y="44.4" width="51.8" height="51.7" fill="none" stroke="#111" stroke-width="1.1"/>
<text x="377.1" y="55.099999999999994" font-size="7.9" font-weight="bold" font-style="normal" text-anchor="start" fill="#000" >30.1</text>
<text x="381.9" y="85.8" font-size="6.8" font-weight="bold" font-style="normal" text-anchor="middle" fill="#262626" >5.1</text>
</g>
<g>
<clipPath id="cp51"><rect x="346.5" y="102.4" width="51.8" height="51.7"/></clipPath>
<g clip-path="url(#cp51)">
<path d="M381.1,149.3 374.6,149.2 369.7,147.8 367.9,146.5 367.1,145.3 366.8,143.8 367.3,142.3 369.2,140.0 372.4,138.0 376.6,136.5 381.1,135.6 385.9,135.4 390.1,135.9 393.4,137.1 395.5,138.8 396.2,140.3 396.0,142.0 394.9,143.8 393.2,145.3 387.9,147.9 381.1,149.3Z" fill="url(#pS)"/>
<path d="M381.9,145.3 378.9,145.3 376.6,144.8 375.4,143.8 375.3,142.5 377.1,140.8 381.1,139.5 384.9,139.6 387.4,140.8 387.7,142.0 386.6,143.5 384.8,144.5 381.9,145.3Z" fill="url(#pL)"/>
<path d="M356.1,137.5 353.9,137.6 351.9,136.9 350.4,135.5 349.3,133.3 348.8,130.5 348.9,127.5 350.7,121.0 354.5,114.3 359.4,109.2 361.9,107.5 364.4,106.5 366.9,106.1 368.9,106.6 370.3,107.5 371.3,108.8 372.5,112.5 372.3,117.5 370.7,122.8 367.8,128.3 364.1,132.8 360.1,136.0 356.1,137.5Z" fill="url(#pS)"/>
<path d="M358.1,132.3 356.6,132.5 355.1,132.2 354.0,131.3 353.2,130.0 352.7,126.3 353.8,121.8 356.3,117.0 359.6,113.5 363.1,111.5 364.6,111.3 366.1,111.6 367.8,113.0 368.6,115.3 368.5,118.5 367.6,122.0 365.9,125.5 363.4,128.8 360.9,131.0 358.1,132.3Z" fill="url(#pM)"/>
<path d="M358.9,127.8 357.4,127.5 356.4,126.0 356.3,124.0 357.0,121.5 358.4,119.1 360.1,117.2 361.9,116.2 363.6,116.1 364.6,116.9 365.1,118.3 365.0,120.3 364.4,122.3 361.9,126.1 360.4,127.2 358.9,127.8Z" fill="url(#pD)"/>
<g filter="url(#bl03)">
<path d="M355.9,135.3 354.1,135.2 352.7,134.5 351.7,133.3 351.1,131.5 350.9,129.3 351.2,126.8 353.0,121.0 356.2,115.5 360.4,111.0 362.4,109.6 364.6,108.7 366.4,108.4 367.9,108.8 368.9,109.5 369.8,110.8 370.5,114.0 370.0,118.3 368.3,123.0 365.7,127.5 362.6,131.3 359.1,134.1 355.9,135.3Z" fill="#3a86ea" fill-rule="evenodd" opacity="0.84"/>
<path d="M357.1,130.8 356.1,130.6 355.2,130.0 354.3,127.8 354.5,124.5 355.8,121.0 357.9,117.5 360.6,114.6 363.1,113.2 365.4,113.2 366.7,114.5 367.1,116.8 366.7,119.8 365.6,122.8 363.9,125.8 361.6,128.4 359.4,130.1 357.1,130.8Z" fill="#22c0f0" fill-rule="evenodd" opacity="0.9"/>
<path d="M359.6,126.8 358.1,126.9 357.2,126.0 357.0,124.3 357.6,122.0 358.8,119.8 360.4,117.9 361.9,117.0 363.4,116.9 364.1,117.5 364.4,118.5 363.9,121.6 362.1,124.8 359.6,126.8Z" fill="#55da80" fill-rule="evenodd" opacity="0.95"/>
<path d="M354.9,149.5 351.6,149.7 348.9,149.3 347.4,148.5 346.7,147.0 347.0,145.8 347.8,144.5 352.4,138.3 354.4,136.0 358.1,133.2 362.4,131.3 365.4,131.1 368.6,132.0 372.6,130.8 374.2,131.0 374.5,131.5 374.5,132.5 373.0,135.3 364.1,144.5 359.4,147.9 354.9,149.5Z" fill="#3a86ea" fill-rule="evenodd" opacity="1"/>
<path d="M354.1,149.0 351.1,149.2 348.9,148.8 347.6,147.8 347.4,146.5 348.3,144.5 353.3,138.0 355.4,135.8 358.9,133.4 362.1,132.1 364.9,131.8 367.9,132.7 372.1,131.3 373.6,131.5 374.0,132.3 373.8,133.3 372.3,135.8 363.4,144.5 358.9,147.6 356.4,148.6 354.1,149.0Z" fill="#22c0f0" fill-rule="evenodd" opacity="1"/>
<path d="M351.9,148.3 350.1,148.1 348.9,147.5 348.4,146.8 348.6,145.5 354.2,138.3 357.1,135.6 359.6,134.1 362.1,133.2 364.1,133.1 366.9,134.0 371.1,132.4 372.1,132.3 372.7,132.5 372.9,133.0 372.7,134.0 371.0,136.5 361.4,145.0 359.1,146.4 356.9,147.4 351.9,148.3Z" fill="#55da80" fill-rule="evenodd" opacity="1"/>
<path d="M353.9,145.3 352.9,145.3 352.8,144.5 357.6,138.5 359.1,137.4 360.6,136.8 361.9,136.9 362.9,137.5 363.3,138.5 363.1,139.5 360.9,142.1 358.1,143.9 353.9,145.3Z" fill="#e8e43c" fill-rule="evenodd" opacity="1"/>
<path d="M357.1,143.0 356.4,142.9 356.2,142.3 357.8,139.5 359.9,138.2 360.6,138.1 361.4,138.4 361.6,139.5 360.7,141.0 359.1,142.3 357.1,143.0Z" fill="#f39a22" fill-rule="evenodd" opacity="1"/>
<path d="M358.9,141.5 357.8,141.5 358.0,140.5 359.1,139.4 360.2,139.3 360.3,140.3 358.9,141.5Z" fill="#e2341c" fill-rule="evenodd" opacity="1"/>
</g>
</g>
<path d="M350.90,110.30 C352.64,108.66 355.32,106.22 358.80,105.20 C362.28,104.18 365.62,104.50 368.30,105.20 C370.98,105.90 371.18,106.74 372.20,108.70 C373.22,110.66 373.40,112.16 373.40,115.00 C373.40,117.84 373.06,119.90 372.20,122.90 C371.34,125.90 371.14,127.62 369.10,130.00 C367.06,132.38 365.00,133.36 362.00,134.80 C359.00,136.24 356.48,137.20 354.10,137.20 C351.72,137.20 350.98,137.66 350.10,134.80 C349.22,131.94 349.70,127.18 349.70,122.90 C349.70,118.62 349.86,115.92 350.10,113.40 C350.34,110.88 349.16,111.94 350.90,110.30Z" fill="none" stroke="#1a1a1a" stroke-width="1.4"/>
<path d="M375.40,133.40 C378.65,131.56 391.50,132.79 394.00,133.00 C396.50,133.21 396.56,133.38 396.80,135.20 C397.05,137.02 396.46,146.78 396.10,148.60 C395.74,150.42 396.97,150.54 393.70,150.80 C390.43,151.06 371.32,151.03 368.10,150.80 C364.88,150.57 365.25,150.83 366.10,148.80 C366.95,146.77 372.14,135.24 375.40,133.40Z" fill="none" stroke="#1a1a1a" stroke-width="1.4"/>
<rect x="346.5" y="102.4" width="51.8" height="51.7" fill="none" stroke="#111" stroke-width="1.1"/>
<text x="375.5" y="112.4" font-size="7.9" font-weight="bold" font-style="normal" text-anchor="start" fill="#000" >33.3</text>
<text x="381.9" y="143.8" font-size="6.8" font-weight="bold" font-style="normal" text-anchor="middle" fill="#262626" >2.7</text>
</g>
<g>
<clipPath id="cp60"><rect x="403.5" y="44.4" width="51.8" height="51.7"/></clipPath>
<g clip-path="url(#cp60)">
<path d="M449.4,72.3 444.6,72.1 439.5,70.0 436.0,66.8 434.1,62.5 434.2,58.0 436.1,53.9 439.9,50.5 444.4,48.8 450.1,48.7 455.4,50.7 455.4,70.1 452.4,71.5 449.4,72.3ZM435.9,91.8 429.9,91.3 425.2,89.5 423.8,88.3 423.1,86.8 423.1,85.3 423.8,83.8 426.4,81.3 430.4,79.2 443.1,75.9 446.1,75.9 448.6,76.6 451.1,78.1 453.2,80.3 453.9,82.0 453.7,84.0 452.4,86.0 450.3,87.8 443.6,90.6 435.9,91.8Z" fill="url(#pS)"/>
<path d="M438.4,88.8 434.2,88.8 430.9,87.8 429.3,86.3 429.4,84.3 430.7,82.8 432.8,81.5 438.4,80.0 443.9,80.0 446.1,80.8 447.4,81.8 447.9,83.8 446.3,86.0 442.9,87.8 438.4,88.8Z" fill="url(#pL)"/>
<path d="M416.1,79.0 413.9,79.2 411.9,78.6 410.4,77.3 409.4,75.5 408.9,73.0 408.9,70.3 410.5,63.8 414.0,57.5 418.6,52.5 421.1,50.8 423.4,49.9 425.6,49.6 427.6,50.0 430.0,52.0 431.1,55.5 430.9,60.0 429.5,65.0 427.0,69.8 423.6,74.2 419.9,77.4 416.1,79.0Z" fill="url(#pS)"/>
<path d="M417.1,74.3 415.6,74.3 414.4,73.9 412.8,71.8 412.6,68.0 413.7,63.8 416.1,59.5 419.1,56.4 422.4,54.6 425.1,54.7 426.7,56.0 427.5,58.5 427.3,61.5 426.3,65.0 424.6,68.3 422.2,71.3 419.6,73.3 417.1,74.3Z" fill="url(#pM)"/>
<path d="M418.9,69.8 417.1,69.8 416.1,68.8 415.8,66.8 416.4,64.4 417.6,62.0 419.4,60.0 421.1,59.0 422.9,59.0 423.7,59.8 424.1,61.0 423.6,64.4 421.6,67.8 418.9,69.8Z" fill="url(#pD)"/>
<g filter="url(#bl03)">
<path d="M415.4,77.0 413.9,77.0 412.5,76.3 411.5,75.0 411.0,73.3 410.8,71.3 411.1,68.8 412.8,63.5 415.7,58.5 419.6,54.2 421.6,52.8 423.6,52.0 425.4,51.7 426.9,52.1 427.9,52.9 428.6,54.0 429.2,57.0 428.8,60.8 427.2,65.3 424.7,69.8 421.6,73.4 418.4,76.0 415.4,77.0Z" fill="#3a86ea" fill-rule="evenodd" opacity="0.84"/>
<path d="M417.6,72.6 416.4,72.7 415.4,72.5 414.6,71.8 414.2,70.8 414.0,67.8 415.0,64.3 417.0,60.8 419.6,57.8 422.1,56.3 423.4,56.0 424.4,56.2 425.5,57.3 426.1,59.3 425.8,61.8 425.0,64.5 423.5,67.3 421.6,69.8 419.6,71.6 417.6,72.6Z" fill="#22c0f0" fill-rule="evenodd" opacity="0.9"/>
<path d="M418.9,69.0 417.6,69.2 416.7,68.3 416.5,66.8 417.0,64.8 418.0,62.8 419.4,61.0 420.9,59.9 422.4,59.6 423.1,60.2 423.4,61.0 423.0,64.0 421.1,67.3 418.9,69.0Z" fill="#55da80" fill-rule="evenodd" opacity="0.95"/>
<path d="M414.6,92.3 412.4,92.3 409.4,91.3 405.4,90.7 404.2,89.5 404.3,88.0 406.1,85.8 410.6,82.8 415.6,77.1 419.4,74.4 423.4,72.9 427.1,72.8 430.9,71.9 432.1,72.2 432.4,73.5 431.5,76.0 424.9,85.8 422.6,88.0 419.9,90.1 417.1,91.6 414.6,92.3Z" fill="#3a86ea" fill-rule="evenodd" opacity="1"/>
<path d="M414.9,91.6 413.1,91.6 410.1,90.8 406.1,90.4 404.9,89.5 404.9,88.0 406.2,86.3 410.8,83.3 415.1,78.3 419.1,75.2 422.9,73.7 426.4,73.5 430.4,72.4 431.6,72.7 431.9,74.0 431.0,76.3 424.2,85.8 422.1,87.8 419.6,89.7 417.1,90.9 414.9,91.6Z" fill="#22c0f0" fill-rule="evenodd" opacity="1"/>
<path d="M416.1,90.1 414.4,90.3 411.1,89.7 407.4,89.7 406.1,89.0 406.0,88.0 407.4,86.2 411.8,83.5 415.6,79.0 419.1,76.3 422.1,75.1 425.6,74.7 429.4,73.4 430.6,73.6 430.9,74.8 430.0,76.8 423.7,85.0 419.9,88.4 416.1,90.1Z" fill="#55da80" fill-rule="evenodd" opacity="1"/>
<path d="M417.4,86.3 415.6,86.0 415.1,85.0 415.8,83.0 417.5,80.8 419.9,79.2 423.4,78.4 426.4,76.9 427.4,76.8 427.4,77.5 426.5,78.8 421.4,83.9 419.4,85.5 417.4,86.3Z" fill="#e8e43c" fill-rule="evenodd" opacity="1"/>
<path d="M418.6,84.8 417.4,85.0 416.7,84.3 416.9,83.0 418.0,81.5 420.1,80.2 423.1,80.2 422.8,81.0 421.1,83.0 418.6,84.8Z" fill="#f39a22" fill-rule="evenodd" opacity="1"/>
<path d="M418.9,83.8 418.1,83.8 417.9,83.5 418.3,82.3 419.6,81.3 420.7,81.3 420.9,81.8 420.5,82.5 418.9,83.8Z" fill="#e2341c" fill-rule="evenodd" opacity="1"/>
</g>
</g>
<path d="M410.80,53.10 C412.70,51.06 415.72,47.90 419.50,46.80 C423.28,45.70 426.86,45.56 429.70,47.60 C432.54,49.64 433.22,53.02 433.70,57.00 C434.18,60.98 433.52,63.82 432.10,67.50 C430.68,71.18 429.44,73.16 426.60,75.40 C423.76,77.64 420.76,78.10 417.90,78.70 C415.04,79.30 413.88,80.20 412.30,78.40 C410.72,76.60 410.46,73.98 410.00,69.70 C409.54,65.42 409.84,60.32 410.00,57.00 C410.16,53.68 408.90,55.14 410.80,53.10Z" fill="none" stroke="#1a1a1a" stroke-width="1.4"/>
<path d="M432.40,75.40 C435.65,73.56 448.50,74.79 451.00,75.00 C453.50,75.21 453.56,75.38 453.80,77.20 C454.05,79.02 453.46,88.78 453.10,90.60 C452.74,92.42 453.97,92.54 450.70,92.80 C447.43,93.06 428.32,93.03 425.10,92.80 C421.88,92.57 422.25,92.83 423.10,90.80 C423.95,88.77 429.14,77.24 432.40,75.40Z" fill="none" stroke="#1a1a1a" stroke-width="1.4"/>
<rect x="403.5" y="44.4" width="51.8" height="51.7" fill="none" stroke="#111" stroke-width="1.1"/>
<text x="433.8" y="55.099999999999994" font-size="7.9" font-weight="bold" font-style="normal" text-anchor="start" fill="#000" >33.3</text>
<text x="438.9" y="85.8" font-size="6.8" font-weight="bold" font-style="normal" text-anchor="middle" fill="#262626" >4.0</text>
</g>
<g>
<clipPath id="cp61"><rect x="403.5" y="102.4" width="51.8" height="51.7"/></clipPath>
<g clip-path="url(#cp61)">
<path d="M435.9,149.3 430.4,148.8 426.1,147.2 424.2,144.8 424.2,143.3 424.9,141.8 426.9,139.7 430.1,137.9 434.4,136.4 438.9,135.7 443.4,135.6 447.4,136.1 450.4,137.3 452.3,139.0 452.9,140.5 452.6,142.3 451.3,144.0 449.1,145.7 443.1,148.2 435.9,149.3Z" fill="url(#pS)"/>
<path d="M413.6,137.5 411.4,137.6 409.4,136.9 407.8,135.5 406.8,133.5 406.3,131.0 406.3,128.0 408.0,121.3 411.5,114.8 416.4,109.5 419.1,107.6 421.6,106.5 424.1,106.1 426.1,106.5 427.6,107.5 428.6,108.6 429.9,112.3 429.7,117.0 428.2,122.5 425.5,127.8 421.8,132.5 417.6,135.9 413.6,137.5Z" fill="url(#pS)"/>
<path d="M415.6,132.3 414.1,132.5 412.6,132.2 411.4,131.3 410.6,130.0 410.1,126.3 411.2,121.8 413.6,117.3 416.9,113.6 420.4,111.6 423.4,111.5 425.1,112.9 426.0,115.3 425.9,118.5 425.0,122.0 423.3,125.5 420.9,128.7 418.4,130.9 415.6,132.3Z" fill="url(#pM)"/>
<path d="M416.1,127.8 414.6,127.4 413.8,126.0 413.7,124.0 414.4,121.5 415.8,119.0 417.6,117.1 419.6,116.1 421.1,116.2 422.1,117.0 422.5,118.3 422.4,120.3 421.8,122.3 419.3,126.0 417.6,127.3 416.1,127.8Z" fill="url(#pD)"/>
<g filter="url(#bl03)">
<path d="M413.4,135.3 411.6,135.2 410.1,134.5 409.1,133.3 408.5,131.5 408.3,129.3 408.6,126.8 410.5,120.8 413.8,115.3 417.9,111.0 419.9,109.6 421.9,108.7 423.9,108.5 425.4,108.8 426.4,109.6 427.2,110.8 427.9,114.0 427.4,118.0 425.8,122.8 423.3,127.3 420.1,131.2 416.6,134.0 413.4,135.3Z" fill="#3a86ea" fill-rule="evenodd" opacity="0.84"/>
<path d="M414.6,130.8 413.6,130.7 412.6,130.0 411.7,128.0 411.9,124.8 413.2,121.0 415.3,117.5 417.9,114.7 420.6,113.2 421.9,113.0 422.9,113.3 424.1,114.5 424.5,116.8 424.2,119.5 423.0,122.8 421.3,125.8 419.1,128.3 416.9,130.1 414.6,130.8Z" fill="#22c0f0" fill-rule="evenodd" opacity="0.9"/>
<path d="M416.9,126.8 415.4,126.9 414.6,126.0 414.4,124.3 415.0,122.0 416.2,119.8 417.9,117.9 419.6,116.9 420.9,116.9 421.5,117.5 421.8,118.8 421.2,121.8 419.4,124.9 416.9,126.8Z" fill="#55da80" fill-rule="evenodd" opacity="0.95"/>
<path d="M410.6,149.8 407.6,149.7 405.4,149.2 404.1,148.3 403.7,146.8 404.7,144.5 409.4,138.3 411.7,135.8 415.6,132.9 419.4,131.4 422.1,131.2 425.4,132.1 429.6,130.8 431.2,131.0 431.5,131.8 431.4,132.8 429.8,135.5 420.6,144.9 418.1,146.9 415.6,148.4 413.1,149.3 410.6,149.8Z" fill="#3a86ea" fill-rule="evenodd" opacity="1"/>
<path d="M411.6,149.0 408.6,149.2 406.1,148.9 404.7,148.0 404.3,146.8 405.3,144.5 410.0,138.3 412.1,136.1 415.4,133.7 419.1,132.1 421.6,131.9 424.9,132.8 429.1,131.4 430.6,131.5 431.0,132.3 430.8,133.3 429.3,135.8 420.4,144.5 415.9,147.6 411.6,149.0Z" fill="#22c0f0" fill-rule="evenodd" opacity="1"/>
<path d="M409.6,148.3 407.6,148.3 406.1,147.8 405.5,147.0 405.5,145.8 411.0,138.5 413.6,136.0 416.1,134.4 418.9,133.3 421.1,133.2 423.9,134.0 428.1,132.4 429.1,132.3 429.7,132.5 429.9,133.0 429.7,134.0 428.0,136.5 418.6,144.8 414.6,147.1 409.6,148.3Z" fill="#55da80" fill-rule="evenodd" opacity="1"/>
<path d="M411.4,145.3 409.9,145.4 409.5,144.8 414.3,138.8 415.9,137.6 417.4,137.0 418.6,136.9 419.6,137.5 420.1,138.3 420.1,139.3 418.3,141.8 415.4,143.8 411.4,145.3Z" fill="#e8e43c" fill-rule="evenodd" opacity="1"/>
<path d="M414.6,143.1 413.6,143.3 413.0,143.0 413.2,142.0 414.1,140.3 416.1,138.5 417.4,138.2 418.1,138.4 418.5,139.3 417.9,140.8 416.4,142.2 414.6,143.1Z" fill="#f39a22" fill-rule="evenodd" opacity="1"/>
<path d="M415.4,141.8 414.6,141.5 415.1,140.3 416.1,139.4 417.1,139.4 417.3,139.8 417.1,140.5 415.4,141.8Z" fill="#e2341c" fill-rule="evenodd" opacity="1"/>
</g>
</g>
<path d="M407.90,110.30 C409.64,108.66 412.32,106.22 415.80,105.20 C419.28,104.18 422.62,104.50 425.30,105.20 C427.98,105.90 428.18,106.74 429.20,108.70 C430.22,110.66 430.40,112.16 430.40,115.00 C430.40,117.84 430.06,119.90 429.20,122.90 C428.34,125.90 428.14,127.62 426.10,130.00 C424.06,132.38 422.00,133.36 419.00,134.80 C416.00,136.24 413.48,137.20 411.10,137.20 C408.72,137.20 407.98,137.66 407.10,134.80 C406.22,131.94 406.70,127.18 406.70,122.90 C406.70,118.62 406.86,115.92 407.10,113.40 C407.34,110.88 406.16,111.94 407.90,110.30Z" fill="none" stroke="#1a1a1a" stroke-width="1.4"/>
<path d="M432.40,133.40 C435.65,131.56 448.50,132.79 451.00,133.00 C453.50,133.21 453.56,133.38 453.80,135.20 C454.05,137.02 453.46,146.78 453.10,148.60 C452.74,150.42 453.97,150.54 450.70,150.80 C447.43,151.06 428.32,151.03 425.10,150.80 C421.88,150.57 422.25,150.83 423.10,148.80 C423.95,146.77 429.14,135.24 432.40,133.40Z" fill="none" stroke="#1a1a1a" stroke-width="1.4"/>
<rect x="403.5" y="102.4" width="51.8" height="51.7" fill="none" stroke="#111" stroke-width="1.1"/>
<text x="432.5" y="112.4" font-size="7.9" font-weight="bold" font-style="normal" text-anchor="start" fill="#000" >36.5</text>
<text x="438.9" y="143.8" font-size="6.8" font-weight="bold" font-style="normal" text-anchor="middle" fill="#262626" >2.5</text>
</g>
<g>
<clipPath id="cp70"><rect x="460.5" y="44.4" width="51.8" height="51.7"/></clipPath>
<g clip-path="url(#cp70)">
<path d="M506.4,72.3 501.4,72.1 496.5,70.0 493.0,66.8 491.1,62.5 491.2,58.0 493.1,53.9 496.9,50.5 501.4,48.8 507.1,48.7 512.4,50.7 512.4,70.1 509.4,71.5 506.4,72.3ZM495.1,91.5 488.6,91.5 483.4,90.0 481.6,88.9 480.6,87.5 480.3,86.0 480.7,84.3 482.9,81.8 486.6,79.6 491.6,77.9 499.1,76.2 502.1,76.0 504.6,76.4 507.4,77.8 509.6,79.8 510.6,81.5 510.7,83.3 509.8,85.3 508.1,87.0 502.6,89.9 495.1,91.5Z" fill="url(#pS)"/>
<path d="M494.4,88.5 490.9,88.3 488.4,87.5 486.9,86.0 487.1,84.3 490.2,81.8 495.7,80.3 500.9,80.5 502.8,81.3 503.9,82.3 504.0,84.3 502.1,86.3 498.8,87.8 494.4,88.5Z" fill="url(#pL)"/>
<path d="M469.9,78.3 467.6,78.4 465.9,77.8 464.4,76.5 463.4,74.5 462.9,72.0 463.1,69.3 465.0,63.0 468.8,56.8 473.6,52.1 476.1,50.5 478.6,49.6 480.9,49.4 482.9,49.9 485.1,52.0 486.0,55.5 485.7,59.8 484.0,64.8 481.3,69.5 477.6,73.9 473.6,76.9 469.9,78.3Z" fill="url(#pS)"/>
<path d="M471.6,73.5 468.9,73.3 467.8,72.5 467.1,71.3 466.8,67.8 468.0,63.5 470.5,59.3 473.9,56.0 477.4,54.3 480.1,54.5 481.5,55.8 482.2,58.0 482.1,61.0 481.0,64.3 479.2,67.5 476.9,70.3 474.1,72.5 471.6,73.5Z" fill="url(#pM)"/>
<path d="M472.6,69.3 471.1,69.0 470.3,67.8 470.2,65.8 471.0,63.5 472.3,61.3 474.1,59.5 476.1,58.5 477.6,58.6 478.5,59.5 478.8,60.8 478.0,64.3 475.6,67.7 474.1,68.8 472.6,69.3Z" fill="url(#pD)"/>
<g filter="url(#bl03)">
<path d="M468.9,76.3 467.4,76.0 466.1,75.1 465.4,73.8 465.0,72.0 465.4,67.5 467.5,62.3 470.9,57.3 474.9,53.6 476.9,52.4 478.9,51.7 480.6,51.6 481.9,51.9 482.9,52.7 483.5,53.8 484.1,57.0 483.3,61.3 481.5,65.5 478.7,69.8 475.4,73.2 472.1,75.4 468.9,76.3Z" fill="#3a86ea" fill-rule="evenodd" opacity="0.84"/>
<path d="M471.1,72.1 470.1,72.0 469.1,71.4 468.2,69.5 468.5,66.5 469.8,63.0 471.9,59.8 474.6,57.2 477.1,55.9 478.4,55.7 479.4,56.0 480.5,57.3 480.8,59.3 480.3,62.0 479.2,64.8 477.4,67.5 475.4,69.8 473.1,71.4 471.1,72.1Z" fill="#22c0f0" fill-rule="evenodd" opacity="0.9"/>
<path d="M472.9,68.5 471.6,68.4 470.9,67.3 471.0,65.5 471.7,63.5 473.0,61.5 474.6,60.0 476.1,59.3 477.4,59.4 477.9,60.0 478.1,61.3 477.3,64.3 475.1,67.2 472.9,68.5Z" fill="#55da80" fill-rule="evenodd" opacity="0.95"/>
<path d="M469.9,91.8 467.4,92.0 465.4,91.5 464.0,90.5 463.2,89.0 463.2,87.0 463.8,85.0 465.3,82.5 467.3,80.3 471.1,77.3 475.4,75.4 478.1,74.8 482.1,74.9 486.9,73.4 488.5,73.8 488.6,75.3 487.4,77.5 479.9,86.4 475.1,89.9 472.4,91.1 469.9,91.8Z" fill="#3a86ea" fill-rule="evenodd" opacity="1"/>
<path d="M468.9,91.3 466.9,91.1 465.4,90.5 464.3,89.3 463.9,87.8 464.2,86.0 465.0,84.0 466.4,82.0 468.3,80.0 471.6,77.6 475.6,75.9 477.9,75.5 481.6,75.5 486.4,73.9 487.9,74.3 488.0,75.8 486.7,78.0 478.9,86.6 476.6,88.4 473.9,89.9 471.4,90.9 468.9,91.3Z" fill="#22c0f0" fill-rule="evenodd" opacity="1"/>
<path d="M470.1,90.0 468.4,90.0 466.8,89.5 465.8,88.5 465.4,87.3 465.5,85.8 466.2,84.0 469.1,80.5 472.1,78.4 475.1,77.1 477.4,76.7 480.4,76.7 485.1,75.0 486.1,74.8 486.9,75.1 486.9,76.5 485.6,78.5 478.1,86.1 474.4,88.7 470.1,90.0Z" fill="#55da80" fill-rule="evenodd" opacity="1"/>
<path d="M472.4,86.6 470.4,86.5 469.8,86.0 469.6,85.3 470.1,83.5 471.9,81.6 474.6,80.2 476.1,80.1 478.9,80.5 482.1,78.8 482.3,79.0 479.4,81.3 475.5,85.0 472.4,86.6Z" fill="#e8e43c" fill-rule="evenodd" opacity="1"/>
<path d="M473.1,85.3 471.9,85.4 471.2,85.0 471.1,84.0 471.7,83.0 473.9,81.5 475.1,81.3 476.1,81.7 476.4,82.5 475.8,83.5 474.6,84.5 473.1,85.3Z" fill="#f39a22" fill-rule="evenodd" opacity="1"/>
<path d="M473.4,84.4 472.4,84.3 472.5,83.3 473.6,82.5 474.8,82.5 474.6,83.5 473.4,84.4Z" fill="#e2341c" fill-rule="evenodd" opacity="1"/>
</g>
</g>
<path d="M464.90,52.30 C466.64,50.66 469.32,48.22 472.80,47.20 C476.28,46.18 479.62,46.50 482.30,47.20 C484.98,47.90 485.18,48.74 486.20,50.70 C487.22,52.66 487.40,54.16 487.40,57.00 C487.40,59.84 487.06,61.90 486.20,64.90 C485.34,67.90 485.14,69.62 483.10,72.00 C481.06,74.38 479.00,75.36 476.00,76.80 C473.00,78.24 470.48,79.20 468.10,79.20 C465.72,79.20 464.98,79.66 464.10,76.80 C463.22,73.94 463.70,69.18 463.70,64.90 C463.70,60.62 463.86,57.92 464.10,55.40 C464.34,52.88 463.16,53.94 464.90,52.30Z" fill="none" stroke="#1a1a1a" stroke-width="1.4"/>
<path d="M489.40,75.40 C492.65,73.56 505.50,74.79 508.00,75.00 C510.50,75.21 510.56,75.38 510.80,77.20 C511.05,79.02 510.46,88.78 510.10,90.60 C509.74,92.42 510.97,92.54 507.70,92.80 C504.43,93.06 485.32,93.03 482.10,92.80 C478.88,92.57 479.25,92.83 480.10,90.80 C480.95,88.77 486.14,77.24 489.40,75.40Z" fill="none" stroke="#1a1a1a" stroke-width="1.4"/>
<rect x="460.5" y="44.4" width="51.8" height="51.7" fill="none" stroke="#111" stroke-width="1.1"/>
<text x="488.0" y="55.099999999999994" font-size="7.9" font-weight="bold" font-style="normal" text-anchor="start" fill="#000" >40.9</text>
<text x="495.9" y="85.8" font-size="6.8" font-weight="bold" font-style="normal" text-anchor="middle" fill="#262626" >2.8</text>
</g>
<g>
<clipPath id="cp71"><rect x="460.5" y="102.4" width="51.8" height="51.7"/></clipPath>
<g clip-path="url(#cp71)">
<path d="M492.9,149.3 487.4,148.8 483.1,147.2 481.2,144.8 481.2,143.3 481.9,141.8 483.9,139.7 487.1,137.9 491.4,136.4 495.9,135.7 500.4,135.6 504.4,136.1 507.4,137.3 509.3,139.0 509.9,140.5 509.6,142.3 508.3,144.0 506.1,145.7 500.1,148.2 492.9,149.3Z" fill="url(#pS)"/>
<path d="M469.6,138.1 467.4,138.1 465.4,137.3 463.9,135.8 462.9,133.8 462.4,131.3 462.5,128.3 464.3,121.5 467.9,115.0 472.9,109.7 475.4,108.1 477.9,107.0 480.4,106.6 482.4,107.0 483.9,108.0 484.9,109.3 486.1,113.0 485.9,117.8 484.3,123.3 481.5,128.5 477.9,133.1 473.9,136.4 469.6,138.1Z" fill="url(#pS)"/>
<path d="M471.6,132.8 470.1,133.0 468.6,132.6 467.6,131.8 466.8,130.5 466.3,126.8 467.4,122.3 469.8,117.8 473.1,114.1 476.6,112.1 479.6,112.0 481.4,113.5 482.2,115.8 482.1,119.0 481.2,122.5 479.5,126.0 477.0,129.3 474.4,131.6 471.6,132.8Z" fill="url(#pM)"/>
<path d="M472.4,128.3 470.9,127.9 470.0,126.5 469.9,124.5 470.6,121.9 472.0,119.5 473.9,117.6 475.9,116.6 477.4,116.7 478.3,117.5 478.7,119.0 477.9,123.0 475.4,126.7 473.9,127.8 472.4,128.3Z" fill="url(#pD)"/>
<g filter="url(#bl03)">
<path d="M469.6,135.8 468.1,135.8 466.6,135.2 465.5,134.0 464.8,132.3 464.5,130.0 464.7,127.5 466.5,121.8 469.8,116.0 473.9,111.6 476.1,110.1 478.1,109.2 479.9,108.9 481.4,109.2 482.4,109.9 483.3,111.0 484.1,114.3 483.6,118.8 482.0,123.3 479.5,127.8 476.4,131.7 472.9,134.5 469.6,135.8Z" fill="#3a86ea" fill-rule="evenodd" opacity="0.84"/>
<path d="M470.6,131.3 469.6,131.1 468.8,130.5 467.9,128.3 468.1,125.0 469.5,121.3 471.6,117.8 474.4,115.0 476.9,113.7 478.1,113.5 479.1,113.8 480.4,115.2 480.7,117.5 480.3,120.5 479.1,123.5 477.3,126.5 475.1,129.0 472.9,130.7 470.6,131.3Z" fill="#22c0f0" fill-rule="evenodd" opacity="0.9"/>
<path d="M473.1,127.3 471.6,127.4 470.8,126.5 470.6,124.8 471.1,122.8 472.2,120.5 473.9,118.5 475.4,117.5 476.9,117.4 477.6,117.9 478.0,119.0 477.5,122.0 475.6,125.3 473.1,127.3Z" fill="#55da80" fill-rule="evenodd" opacity="0.95"/>
<path d="M467.1,149.5 464.4,149.6 462.1,149.2 460.8,148.0 460.6,146.5 461.3,144.8 464.9,139.3 468.4,135.5 472.1,132.9 476.1,131.4 479.1,131.2 482.1,132.2 486.6,130.8 487.6,130.8 488.4,131.3 488.5,132.0 488.2,133.3 486.4,136.0 477.4,144.6 475.1,146.4 472.4,148.0 469.9,148.9 467.1,149.5Z" fill="#3a86ea" fill-rule="evenodd" opacity="1"/>
<path d="M466.6,149.1 464.1,149.1 462.4,148.6 461.4,147.7 461.2,146.3 462.0,144.5 465.8,139.0 469.1,135.5 472.4,133.4 475.9,132.1 478.6,131.9 481.6,132.9 486.1,131.4 487.1,131.3 487.8,131.8 487.7,133.5 485.9,136.3 476.6,144.6 471.9,147.6 469.1,148.6 466.6,149.1Z" fill="#22c0f0" fill-rule="evenodd" opacity="1"/>
<path d="M465.9,148.3 464.1,148.2 462.9,147.8 462.3,147.0 462.4,145.8 467.0,139.0 470.1,135.9 472.9,134.2 475.4,133.3 477.9,133.2 480.6,134.2 485.1,132.4 486.7,132.5 486.9,133.3 486.6,134.3 484.7,136.8 475.4,144.5 471.1,146.9 465.9,148.3Z" fill="#55da80" fill-rule="evenodd" opacity="1"/>
<path d="M467.4,145.5 466.4,145.5 466.2,144.8 470.7,138.8 472.3,137.5 473.9,136.9 475.1,136.8 476.2,137.3 476.7,138.3 476.5,139.3 474.7,141.8 471.6,143.8 467.4,145.5Z" fill="#e8e43c" fill-rule="evenodd" opacity="1"/>
<path d="M470.6,143.1 469.6,143.1 469.5,142.8 470.9,139.8 472.9,138.3 474.1,138.0 474.8,138.3 475.1,139.3 474.3,140.8 472.6,142.2 470.6,143.1Z" fill="#f39a22" fill-rule="evenodd" opacity="1"/>
<path d="M472.1,141.5 471.3,141.5 471.5,140.3 472.7,139.3 473.8,139.3 473.9,139.8 473.5,140.5 472.1,141.5Z" fill="#e2341c" fill-rule="evenodd" opacity="1"/>
</g>
</g>
<path d="M464.90,110.30 C466.64,108.66 469.32,106.22 472.80,105.20 C476.28,104.18 479.62,104.50 482.30,105.20 C484.98,105.90 485.18,106.74 486.20,108.70 C487.22,110.66 487.40,112.16 487.40,115.00 C487.40,117.84 487.06,119.90 486.20,122.90 C485.34,125.90 485.14,127.62 483.10,130.00 C481.06,132.38 479.00,133.36 476.00,134.80 C473.00,136.24 470.48,137.20 468.10,137.20 C465.72,137.20 464.98,137.66 464.10,134.80 C463.22,131.94 463.70,127.18 463.70,122.90 C463.70,118.62 463.86,115.92 464.10,113.40 C464.34,110.88 463.16,111.94 464.90,110.30Z" fill="none" stroke="#1a1a1a" stroke-width="1.4"/>
<path d="M489.40,133.40 C492.65,131.56 505.50,132.79 508.00,133.00 C510.50,133.21 510.56,133.38 510.80,135.20 C511.05,137.02 510.46,146.78 510.10,148.60 C509.74,150.42 510.97,150.54 507.70,150.80 C504.43,151.06 485.32,151.03 482.10,150.80 C478.88,150.57 479.25,150.83 480.10,148.80 C480.95,146.77 486.14,135.24 489.40,133.40Z" fill="none" stroke="#1a1a1a" stroke-width="1.4"/>
<rect x="460.5" y="102.4" width="51.8" height="51.7" fill="none" stroke="#111" stroke-width="1.1"/>
<text x="488.8" y="112.4" font-size="7.9" font-weight="bold" font-style="normal" text-anchor="start" fill="#000" >40.7</text>
<text x="495.9" y="143.8" font-size="6.8" font-weight="bold" font-style="normal" text-anchor="middle" fill="#262626" >2.3</text>
</g>
<line x1="55" y1="50" x2="55" y2="132.6" stroke="#000" stroke-width="1.6"/>
<path d="M52,54.6 L55,49 L58,54.6 L55,53.2 Z" fill="#000" stroke="#000" stroke-width="0.8" stroke-linejoin="round"/>
<text transform="translate(57.8 158.2) rotate(-90)" font-size="8.6" font-weight="bold">IL-17</text>
<text x="61.1" y="165.1" font-size="8.9" font-weight="bold">IFN<tspan font-weight="normal" font-size="7.2" dy="0.6">γ</tspan></text>
<line x1="83.1" y1="163.1" x2="501.5" y2="163.1" stroke="#000" stroke-width="1.6"/>
<polyline points="497,160 502,163.1 497,166.2" fill="none" stroke="#000" stroke-width="1.5"/>
<text x="3.9" y="186.8" font-size="14.2" font-weight="bold">B</text>
<line x1="58.8" y1="203.89999999999998" x2="58.8" y2="350.4" stroke="#000" stroke-width="1.1"/>
<line x1="56.199999999999996" y1="349.90" x2="58.8" y2="349.90" stroke="#000" stroke-width="1"/>
<text x="52.6" y="352.79999999999995" font-size="8.3" font-weight="bold" font-style="normal" text-anchor="end" fill="#000" >0%</text>
<line x1="56.199999999999996" y1="325.65" x2="58.8" y2="325.65" stroke="#000" stroke-width="1"/>
<text x="52.6" y="328.54999999999995" font-size="8.3" font-weight="bold" font-style="normal" text-anchor="end" fill="#000" >20%</text>
<line x1="56.199999999999996" y1="301.40" x2="58.8" y2="301.40" stroke="#000" stroke-width="1"/>
<text x="52.6" y="304.29999999999995" font-size="8.3" font-weight="bold" font-style="normal" text-anchor="end" fill="#000" >40%</text>
<line x1="56.199999999999996" y1="277.15" x2="58.8" y2="277.15" stroke="#000" stroke-width="1"/>
<text x="52.6" y="280.04999999999995" font-size="8.3" font-weight="bold" font-style="normal" text-anchor="end" fill="#000" >60%</text>
<line x1="56.199999999999996" y1="252.90" x2="58.8" y2="252.90" stroke="#000" stroke-width="1"/>
<text x="52.6" y="255.79999999999998" font-size="8.3" font-weight="bold" font-style="normal" text-anchor="end" fill="#000" >80%</text>
<line x1="56.199999999999996" y1="228.65" x2="58.8" y2="228.65" stroke="#000" stroke-width="1"/>
<text x="52.6" y="231.54999999999998" font-size="8.3" font-weight="bold" font-style="normal" text-anchor="end" fill="#000" >100%</text>
<line x1="56.199999999999996" y1="204.40" x2="58.8" y2="204.40" stroke="#000" stroke-width="1"/>
<text x="52.6" y="207.29999999999998" font-size="8.3" font-weight="bold" font-style="normal" text-anchor="end" fill="#000" >120%</text>
<line x1="58.8" y1="350.4" x2="241.5" y2="350.4" stroke="#000" stroke-width="1.1"/>
<line x1="68.60" y1="350.4" x2="68.60" y2="352.4" stroke="#000" stroke-width="0.9"/>
<line x1="81.90" y1="350.4" x2="81.90" y2="352.4" stroke="#000" stroke-width="0.9"/>
<line x1="95.10" y1="350.4" x2="95.10" y2="352.4" stroke="#000" stroke-width="0.9"/>
<line x1="108.40" y1="350.4" x2="108.40" y2="352.4" stroke="#000" stroke-width="0.9"/>
<line x1="121.60" y1="350.4" x2="121.60" y2="352.4" stroke="#000" stroke-width="0.9"/>
<line x1="134.90" y1="350.4" x2="134.90" y2="352.4" stroke="#000" stroke-width="0.9"/>
<line x1="148.10" y1="350.4" x2="148.10" y2="352.4" stroke="#000" stroke-width="0.9"/>
<line x1="161.35" y1="350.4" x2="161.35" y2="352.4" stroke="#000" stroke-width="0.9"/>
<line x1="174.60" y1="350.4" x2="174.60" y2="352.4" stroke="#000" stroke-width="0.9"/>
<line x1="187.85" y1="350.4" x2="187.85" y2="352.4" stroke="#000" stroke-width="0.9"/>
<line x1="201.10" y1="350.4" x2="201.10" y2="352.4" stroke="#000" stroke-width="0.9"/>
<line x1="214.35" y1="350.4" x2="214.35" y2="352.4" stroke="#000" stroke-width="0.9"/>
<line x1="227.60" y1="350.4" x2="227.60" y2="352.4" stroke="#000" stroke-width="0.9"/>
<line x1="240.85" y1="350.4" x2="240.85" y2="352.4" stroke="#000" stroke-width="0.9"/>
<text x="79.0" y="360" font-size="6.0" font-weight="bold" font-style="normal" text-anchor="middle" fill="#000" >0.03</text>
<text x="93.7" y="360" font-size="6.0" font-weight="bold" font-style="normal" text-anchor="middle" fill="#000" >0.06</text>
<text x="106.9" y="360" font-size="6.0" font-weight="bold" font-style="normal" text-anchor="middle" fill="#000" >0.1</text>
<text x="120.6" y="360" font-size="6.0" font-weight="bold" font-style="normal" text-anchor="middle" fill="#000" >0.25</text>
<text x="132.9" y="360" font-size="6.0" font-weight="bold" font-style="normal" text-anchor="middle" fill="#000" >0.5</text>
<text x="148.8" y="360" font-size="6.0" font-weight="bold" font-style="normal" text-anchor="middle" fill="#000" >1</text>
<text x="162.05" y="360" font-size="6.0" font-weight="bold" font-style="normal" text-anchor="middle" fill="#000" >2</text>
<text x="175.3" y="360" font-size="6.0" font-weight="bold" font-style="normal" text-anchor="middle" fill="#000" >4</text>
<text x="188.55" y="360" font-size="6.0" font-weight="bold" font-style="normal" text-anchor="middle" fill="#000" >8</text>
<text x="201.8" y="360" font-size="6.0" font-weight="bold" font-style="normal" text-anchor="middle" fill="#000" >16</text>
<text x="215.05" y="360" font-size="6.0" font-weight="bold" font-style="normal" text-anchor="middle" fill="#000" >32</text>
<text x="228.3" y="360" font-size="6.0" font-weight="bold" font-style="normal" text-anchor="middle" fill="#000" >64</text>
<text x="241.55" y="360" font-size="6.0" font-weight="bold" font-style="normal" text-anchor="middle" fill="#000" >128</text>
<text x="29.3" y="360" font-size="6.0" font-weight="bold" font-style="normal" text-anchor="start" fill="#000" >IL-6 (ng/ml)</text>
<text transform="translate(29.2 334) rotate(-90)" font-size="7.75" font-weight="bold">% of Maximal Th17 Generation</text>
<text x="75.3" y="219.2" font-size="15.4" font-weight="bold" font-style="normal" text-anchor="start" fill="#000" >IL-6</text>
<line x1="60" y1="289.6" x2="176" y2="289.6" stroke="#000" stroke-width="0.9" stroke-dasharray="2.2,1.6"/>
<polyline points="59.2,345.4 109,321.2 126.6,287.2 139.9,281 153.1,268.5 161,266.2 166.2,264.6 170.6,256 184,248.8 197.4,239.1 210.8,234.6 228,230.9 236,235.8" fill="none" stroke="#bdbdbd" stroke-width="1.1"/>
<polyline points="58.9,348.2 108.7,344.1 126.4,329.7 139.9,304.6 152.7,281.9 161,269 170,265.2 184,260 197.4,238.9 210.8,233.4 228,229.1 236,241" fill="none" stroke="#111" stroke-width="1.5" stroke-linejoin="round"/>
<line x1="109" y1="316.2" x2="109" y2="326.2" stroke="#444" stroke-width="1"/>
<line x1="108.2" y1="316.2" x2="109.8" y2="316.2" stroke="#444" stroke-width="0.9"/>
<line x1="108.2" y1="326.2" x2="109.8" y2="326.2" stroke="#444" stroke-width="0.9"/>
<line x1="126.6" y1="277.4" x2="126.6" y2="297.0" stroke="#444" stroke-width="1"/>
<line x1="125.8" y1="277.4" x2="127.39999999999999" y2="277.4" stroke="#444" stroke-width="0.9"/>
<line x1="125.8" y1="297.0" x2="127.39999999999999" y2="297.0" stroke="#444" stroke-width="0.9"/>
<line x1="139.9" y1="270" x2="139.9" y2="292" stroke="#444" stroke-width="1"/>
<line x1="139.1" y1="270" x2="140.70000000000002" y2="270" stroke="#444" stroke-width="0.9"/>
<line x1="139.1" y1="292" x2="140.70000000000002" y2="292" stroke="#444" stroke-width="0.9"/>
<line x1="153.1" y1="260.8" x2="153.1" y2="276.2" stroke="#444" stroke-width="1"/>
<line x1="152.29999999999998" y1="260.8" x2="153.9" y2="260.8" stroke="#444" stroke-width="0.9"/>
<line x1="152.29999999999998" y1="276.2" x2="153.9" y2="276.2" stroke="#444" stroke-width="0.9"/>
<line x1="161" y1="257.2" x2="161" y2="275.2" stroke="#444" stroke-width="1"/>
<line x1="160.2" y1="257.2" x2="161.8" y2="257.2" stroke="#444" stroke-width="0.9"/>
<line x1="160.2" y1="275.2" x2="161.8" y2="275.2" stroke="#444" stroke-width="0.9"/>
<line x1="166.2" y1="259.6" x2="166.2" y2="269.6" stroke="#444" stroke-width="1"/>
<line x1="165.39999999999998" y1="259.6" x2="167.0" y2="259.6" stroke="#444" stroke-width="0.9"/>
<line x1="165.39999999999998" y1="269.6" x2="167.0" y2="269.6" stroke="#444" stroke-width="0.9"/>
<line x1="170.6" y1="246.5" x2="170.6" y2="265.5" stroke="#444" stroke-width="1"/>
<line x1="169.79999999999998" y1="246.5" x2="171.4" y2="246.5" stroke="#444" stroke-width="0.9"/>
<line x1="169.79999999999998" y1="265.5" x2="171.4" y2="265.5" stroke="#444" stroke-width="0.9"/>
<line x1="184" y1="240.10000000000002" x2="184" y2="257.5" stroke="#444" stroke-width="1"/>
<line x1="183.2" y1="240.10000000000002" x2="184.8" y2="240.10000000000002" stroke="#444" stroke-width="0.9"/>
<line x1="183.2" y1="257.5" x2="184.8" y2="257.5" stroke="#444" stroke-width="0.9"/>
<line x1="197.4" y1="230.4" x2="197.4" y2="247.79999999999998" stroke="#444" stroke-width="1"/>
<line x1="196.6" y1="230.4" x2="198.20000000000002" y2="230.4" stroke="#444" stroke-width="0.9"/>
<line x1="196.6" y1="247.79999999999998" x2="198.20000000000002" y2="247.79999999999998" stroke="#444" stroke-width="0.9"/>
<line x1="210.8" y1="228.6" x2="210.8" y2="240.6" stroke="#444" stroke-width="1"/>
<line x1="210.0" y1="228.6" x2="211.60000000000002" y2="228.6" stroke="#444" stroke-width="0.9"/>
<line x1="210.0" y1="240.6" x2="211.60000000000002" y2="240.6" stroke="#444" stroke-width="0.9"/>
<line x1="228" y1="226.9" x2="228" y2="234.9" stroke="#444" stroke-width="1"/>
<line x1="227.2" y1="226.9" x2="228.8" y2="226.9" stroke="#444" stroke-width="0.9"/>
<line x1="227.2" y1="234.9" x2="228.8" y2="234.9" stroke="#444" stroke-width="0.9"/>
<line x1="236" y1="224.8" x2="236" y2="246.8" stroke="#444" stroke-width="1"/>
<line x1="235.2" y1="224.8" x2="236.8" y2="224.8" stroke="#444" stroke-width="0.9"/>
<line x1="235.2" y1="246.8" x2="236.8" y2="246.8" stroke="#444" stroke-width="0.9"/>
<line x1="152.7" y1="275.9" x2="152.7" y2="287.9" stroke="#444" stroke-width="1"/>
<line x1="151.89999999999998" y1="275.9" x2="153.5" y2="275.9" stroke="#444" stroke-width="0.9"/>
<line x1="151.89999999999998" y1="287.9" x2="153.5" y2="287.9" stroke="#444" stroke-width="0.9"/>
<line x1="161" y1="264" x2="161" y2="274" stroke="#444" stroke-width="1"/>
<line x1="160.2" y1="264" x2="161.8" y2="264" stroke="#444" stroke-width="0.9"/>
<line x1="160.2" y1="274" x2="161.8" y2="274" stroke="#444" stroke-width="0.9"/>
<line x1="170" y1="262.2" x2="170" y2="268.2" stroke="#444" stroke-width="1"/>
<line x1="169.2" y1="262.2" x2="170.8" y2="262.2" stroke="#444" stroke-width="0.9"/>
<line x1="169.2" y1="268.2" x2="170.8" y2="268.2" stroke="#444" stroke-width="0.9"/>
<line x1="184" y1="254" x2="184" y2="266" stroke="#444" stroke-width="1"/>
<line x1="183.2" y1="254" x2="184.8" y2="254" stroke="#444" stroke-width="0.9"/>
<line x1="183.2" y1="266" x2="184.8" y2="266" stroke="#444" stroke-width="0.9"/>
<line x1="197.4" y1="234.9" x2="197.4" y2="242.9" stroke="#444" stroke-width="1"/>
<line x1="196.6" y1="234.9" x2="198.20000000000002" y2="234.9" stroke="#444" stroke-width="0.9"/>
<line x1="196.6" y1="242.9" x2="198.20000000000002" y2="242.9" stroke="#444" stroke-width="0.9"/>
<line x1="210.8" y1="229.4" x2="210.8" y2="237.4" stroke="#444" stroke-width="1"/>
<line x1="210.0" y1="229.4" x2="211.60000000000002" y2="229.4" stroke="#444" stroke-width="0.9"/>
<line x1="210.0" y1="237.4" x2="211.60000000000002" y2="237.4" stroke="#444" stroke-width="0.9"/>
<line x1="228" y1="226.1" x2="228" y2="232.1" stroke="#444" stroke-width="1"/>
<line x1="227.2" y1="226.1" x2="228.8" y2="226.1" stroke="#444" stroke-width="0.9"/>
<line x1="227.2" y1="232.1" x2="228.8" y2="232.1" stroke="#444" stroke-width="0.9"/>
<line x1="236" y1="228" x2="236" y2="254" stroke="#444" stroke-width="1"/>
<line x1="235.2" y1="228" x2="236.8" y2="228" stroke="#444" stroke-width="0.9"/>
<line x1="235.2" y1="254" x2="236.8" y2="254" stroke="#444" stroke-width="0.9"/>
<circle cx="58.9" cy="348.2" r="2.65" fill="#fff" stroke="#111" stroke-width="1.2"/>
<circle cx="108.7" cy="344.1" r="2.65" fill="#fff" stroke="#111" stroke-width="1.2"/>
<circle cx="126.4" cy="329.7" r="2.65" fill="#fff" stroke="#111" stroke-width="1.2"/>
<circle cx="139.9" cy="304.6" r="2.65" fill="#fff" stroke="#111" stroke-width="1.2"/>
<circle cx="152.7" cy="281.9" r="2.65" fill="#fff" stroke="#111" stroke-width="1.2"/>
<circle cx="161" cy="269" r="2.65" fill="#fff" stroke="#111" stroke-width="1.2"/>
<circle cx="170" cy="265.2" r="2.65" fill="#fff" stroke="#111" stroke-width="1.2"/>
<circle cx="184" cy="260" r="2.65" fill="#fff" stroke="#111" stroke-width="1.2"/>
<circle cx="197.4" cy="238.9" r="2.65" fill="#fff" stroke="#111" stroke-width="1.2"/>
<circle cx="210.8" cy="233.4" r="2.65" fill="#fff" stroke="#111" stroke-width="1.2"/>
<circle cx="228" cy="229.1" r="2.65" fill="#fff" stroke="#111" stroke-width="1.2"/>
<circle cx="236" cy="241" r="2.65" fill="#fff" stroke="#111" stroke-width="1.2"/>
<path d="M59.2,343.0 L61.7,345.4 L59.2,347.79999999999995 L56.7,345.4 Z" fill="#fff" stroke="#111" stroke-width="1.35" stroke-linejoin="miter"/>
<path d="M109,318.8 L111.5,321.2 L109,323.59999999999997 L106.5,321.2 Z" fill="#fff" stroke="#111" stroke-width="1.35" stroke-linejoin="miter"/>
<path d="M126.6,284.8 L129.1,287.2 L126.6,289.59999999999997 L124.1,287.2 Z" fill="#fff" stroke="#111" stroke-width="1.35" stroke-linejoin="miter"/>
<path d="M139.9,278.6 L142.4,281 L139.9,283.4 L137.4,281 Z" fill="#fff" stroke="#111" stroke-width="1.35" stroke-linejoin="miter"/>
<path d="M153.1,266.1 L155.6,268.5 L153.1,270.9 L150.6,268.5 Z" fill="#fff" stroke="#111" stroke-width="1.35" stroke-linejoin="miter"/>
<path d="M161,263.8 L163.5,266.2 L161,268.59999999999997 L158.5,266.2 Z" fill="#fff" stroke="#111" stroke-width="1.35" stroke-linejoin="miter"/>
<path d="M166.2,262.20000000000005 L168.7,264.6 L166.2,267.0 L163.7,264.6 Z" fill="#fff" stroke="#111" stroke-width="1.35" stroke-linejoin="miter"/>
<path d="M170.6,253.6 L173.1,256 L170.6,258.4 L168.1,256 Z" fill="#fff" stroke="#111" stroke-width="1.35" stroke-linejoin="miter"/>
<path d="M184,246.4 L186.5,248.8 L184,251.20000000000002 L181.5,248.8 Z" fill="#fff" stroke="#111" stroke-width="1.35" stroke-linejoin="miter"/>
<path d="M197.4,236.7 L199.9,239.1 L197.4,241.5 L194.9,239.1 Z" fill="#fff" stroke="#111" stroke-width="1.35" stroke-linejoin="miter"/>
<path d="M210.8,232.2 L213.3,234.6 L210.8,237.0 L208.3,234.6 Z" fill="#fff" stroke="#111" stroke-width="1.35" stroke-linejoin="miter"/>
<path d="M228,228.5 L230.5,230.9 L228,233.3 L225.5,230.9 Z" fill="#fff" stroke="#111" stroke-width="1.35" stroke-linejoin="miter"/>
<path d="M236,233.4 L238.5,235.8 L236,238.20000000000002 L233.5,235.8 Z" fill="#fff" stroke="#111" stroke-width="1.35" stroke-linejoin="miter"/>
<line x1="202.7" y1="314.9" x2="213.8" y2="314.9" stroke="#111" stroke-width="1.5"/>
<circle cx="208.4" cy="314.9" r="2.6" fill="#fff" stroke="#111" stroke-width="1.1"/>
<text x="215.7" y="317.7" font-size="7.4" font-weight="bold" font-style="normal" text-anchor="start" fill="#000" >+/+</text>
<line x1="203" y1="327.4" x2="214" y2="327.4" stroke="#bbb" stroke-width="1" stroke-dasharray="1,1"/>
<path d="M208.4,324.9 L210.9,327.4 L208.4,329.9 L205.9,327.4 Z" fill="#fff" stroke="#111" stroke-width="1.1"/>
<text x="215.4" y="329.4" font-size="7.3" font-weight="bold" font-style="italic" text-anchor="start" fill="#000" >me/+</text>
<text x="309.2" y="188.2" font-size="14" font-weight="bold">C</text>
<text x="358.3" y="209.3" font-size="7.4" font-weight="bold" font-style="normal" text-anchor="middle" fill="#000" >+/+</text>
<clipPath id="cpc0"><rect x="335.6" y="213.4" width="46" height="45.4"/></clipPath><g clip-path="url(#cpc0)">
<path d="M359.7,241.3 371.0,241.3 369.2,245.0 367.1,250.0 365.9,254.0 365.5,258.8 362.5,258.8 362.1,254.0 361.5,249.0 360.3,245.0Z" fill="url(#pD)" opacity="1.0"/>
<path d="M361.1,241.3 369.9,241.3 367.7,246.0 366.1,250.5 365.1,254.0 363.3,254.0 362.7,250.5 362.1,246.0Z" fill="#3384ee" opacity="0.85" filter="url(#bl03)"/>
<ellipse cx="366.5" cy="237.2" rx="3.6" ry="5.6" transform="rotate(15 366.5 237.2)" fill="#3384ee" opacity="0.9" filter="url(#bl03)"/>
<ellipse cx="366.5" cy="237.2" rx="2.9" ry="4.8" transform="rotate(15 366.5 237.2)" fill="#22c0f0" filter="url(#bl03)"/>
<ellipse cx="366.7" cy="237.0" rx="2.0" ry="3.6" transform="rotate(15 366.5 237.2)" fill="#4fd88c" filter="url(#bl03)"/>
</g>
<rect x="358.7" y="225.2" width="12.9" height="17.3" rx="0.8" fill="none" stroke="#222" stroke-width="1.1"/>
<rect x="335.6" y="213.4" width="46" height="45.4" fill="none" stroke="#111" stroke-width="1.1"/>
<text x="366.2" y="221.4" font-size="7.0" font-weight="bold" font-style="normal" text-anchor="middle" fill="#000" >68.7</text>
<text x="407.8" y="209.3" font-size="7.4" font-weight="bold" font-style="italic" text-anchor="middle" fill="#000" >me/+</text>
<clipPath id="cpc1"><rect x="384.0" y="213.4" width="46" height="45.4"/></clipPath><g clip-path="url(#cpc1)">
<path d="M407.9,241.3 419.2,241.3 417.4,245.0 415.3,250.0 414.1,254.0 413.7,258.8 410.7,258.8 410.3,254.0 409.7,249.0 408.5,245.0Z" fill="url(#pD)" opacity="0.9"/>
<path d="M409.3,241.3 418.1,241.3 415.9,246.0 414.3,250.5 413.3,254.0 411.5,254.0 410.9,250.5 410.3,246.0Z" fill="#3384ee" opacity="0.765" filter="url(#bl03)"/>
<ellipse cx="414.7" cy="237.2" rx="3.6" ry="5.6" transform="rotate(15 414.7 237.2)" fill="#3384ee" opacity="0.9" filter="url(#bl03)"/>
<ellipse cx="414.7" cy="237.2" rx="2.9" ry="4.8" transform="rotate(15 414.7 237.2)" fill="#22c0f0" filter="url(#bl03)"/>
<ellipse cx="414.9" cy="237.0" rx="2.0" ry="3.6" transform="rotate(15 414.7 237.2)" fill="#4fd88c" filter="url(#bl03)"/>
</g>
<rect x="406.9" y="225.2" width="12.9" height="17.3" rx="0.8" fill="none" stroke="#222" stroke-width="1.1"/>
<rect x="384.0" y="213.4" width="46" height="45.4" fill="none" stroke="#111" stroke-width="1.1"/>
<text x="415.0" y="221.4" font-size="7.0" font-weight="bold" font-style="normal" text-anchor="middle" fill="#000" >67.1</text>
<text x="457.1" y="209.3" font-size="7.4" font-weight="bold" font-style="italic" text-anchor="middle" fill="#000" >me/me</text>
<clipPath id="cpc2"><rect x="433.3" y="213.4" width="46" height="45.4"/></clipPath><g clip-path="url(#cpc2)">
<path d="M458.3,241.3 469.6,241.3 467.8,245.0 465.7,250.0 464.5,254.0 464.1,258.8 461.1,258.8 460.7,254.0 460.1,249.0 458.9,245.0Z" fill="url(#pD)" opacity="0.6"/>
<path d="M459.7,241.3 468.5,241.3 466.3,246.0 464.7,250.5 463.7,254.0 461.9,254.0 461.3,250.5 460.7,246.0Z" fill="#3384ee" opacity="0.51" filter="url(#bl03)"/>
<ellipse cx="465.1" cy="237.2" rx="3.6" ry="5.6" transform="rotate(15 465.1 237.2)" fill="#3384ee" opacity="0.9" filter="url(#bl03)"/>
<ellipse cx="465.1" cy="237.2" rx="2.9" ry="4.8" transform="rotate(15 465.1 237.2)" fill="#22c0f0" filter="url(#bl03)"/>
<ellipse cx="465.3" cy="237.0" rx="2.0" ry="3.6" transform="rotate(15 465.1 237.2)" fill="#4fd88c" filter="url(#bl03)"/>
</g>
<rect x="457.3" y="225.2" width="12.9" height="17.3" rx="0.8" fill="none" stroke="#222" stroke-width="1.1"/>
<rect x="433.3" y="213.4" width="46" height="45.4" fill="none" stroke="#111" stroke-width="1.1"/>
<text x="465.3" y="221.4" font-size="7.0" font-weight="bold" font-style="normal" text-anchor="middle" fill="#000" >65.8</text>
<line x1="327.2" y1="218.5" x2="327.2" y2="234.3" stroke="#000" stroke-width="1.1"/>
<path d="M325.1,220.8 L327.2,215.6 L329.3,220.8 L327.2,219.8 Z" fill="#000" stroke="#000" stroke-width="0.5"/>
<text transform="translate(329.3 258.2) rotate(-90)" font-size="7.1" font-weight="bold">IL-6R<tspan font-weight="normal">α</tspan></text>
<text x="335.4" y="266.1" font-size="7.0" font-weight="bold" font-style="normal" text-anchor="start" fill="#000" >CD4</text>
<line x1="351.5" y1="263.8" x2="478" y2="263.8" stroke="#000" stroke-width="1.1"/>
<polyline points="475.5,261.6 479.5,263.8 475.5,266" fill="none" stroke="#000" stroke-width="1.1"/>
<line x1="325.6" y1="329.6" x2="390.4" y2="350.6" stroke="#222" stroke-width="1.1"/>
<polyline points="328,326.8 330,325.6 332,324.8" fill="none" stroke="#aaa" stroke-width="0.8"/>
<polyline points="355.2,290 356.0,287.8 357.6,286.8 358.6,284.8 359.6,284.3 360.5,285.5 361.0,290 361.3,300 361.7,312 362.3,323 363.2,330 364.2,332.8 364.9,333.5 397.1,343.6" fill="none" stroke="#b0b0b0" stroke-width="0.9"/>
<polyline points="353.6,298 354.6,291.5 355.4,288.6 356.2,287.6 357.4,287.0 358.3,285.5 359.0,286.5 359.2,292 359.5,305 360.0,318 360.6,328 361.4,334 362,336.3 393.3,346.9" fill="none" stroke="#707070" stroke-width="0.9"/>
<polyline points="330.5,329.5 332,328.5 333,326.8 334.8,326.4 336,324 337,324.5 338.4,322.7 339.5,320.5 340,319.4 341.8,318.8 343,312.8 344.2,309.8 345.8,306.2 346.6,309.2 347.4,310.4 348.4,307.4 349.2,298 349.7,290.5 350.1,290 350.5,294 351.1,297.5 351.6,297.8 352.4,301 353.2,304.5 354.2,308 355.0,311.5 355.5,316 355.8,322 356.6,330 357.6,334.5 358.7,338.3 359.6,339.7" fill="none" stroke="#111" stroke-width="1.15" stroke-linejoin="round"/>
<text x="326.8" y="346.7" font-size="7.2" font-weight="bold">IL-6R<tspan font-weight="normal">α</tspan></text>
<rect x="369.8" y="277.4" width="109.8" height="37.3" fill="#fff" stroke="#c4c4c4" stroke-width="0.9"/>
<text x="442.8" y="285.8" font-size="6.2" font-weight="bold" font-style="normal" text-anchor="start" fill="#000" >MFI IL-6R<tspan font-weight="normal">α</tspan></text>
<rect x="373.4" y="288.4" width="5.5" height="6.4" fill="#000"/>
<rect x="380.2" y="288.59999999999997" width="6.2" height="6.0" rx="1" fill="#fff" stroke="#d0d0d0" stroke-width="0.6"/>
<line x1="381.3" y1="291.59999999999997" x2="385.3" y2="291.59999999999997" stroke="#333" stroke-width="0.8"/>
<text x="402.8" y="294.2" font-size="6.2" font-weight="bold" font-style="italic" text-anchor="start" fill="#3a3a3a" >me/me</text>
<text x="458.4" y="294.2" font-size="6.1" font-weight="bold" font-style="normal" text-anchor="middle" fill="#3a3a3a" >18.4</text>
<rect x="373.4" y="296.8" width="5.5" height="6.4" fill="#7c7c7c"/>
<rect x="380.2" y="297.0" width="6.2" height="6.0" rx="1" fill="#fff" stroke="#d0d0d0" stroke-width="0.6"/>
<line x1="381.3" y1="300.0" x2="385.3" y2="300.0" stroke="#333" stroke-width="0.8"/>
<text x="402.8" y="302.6" font-size="6.2" font-weight="bold" font-style="italic" text-anchor="start" fill="#3a3a3a" >me/+</text>
<text x="458.4" y="302.6" font-size="6.1" font-weight="bold" font-style="normal" text-anchor="middle" fill="#3a3a3a" >23.3</text>
<rect x="373.4" y="305.2" width="5.5" height="6.4" fill="#d4d4d4"/>
<rect x="380.2" y="305.4" width="6.2" height="6.0" rx="1" fill="#fff" stroke="#d0d0d0" stroke-width="0.6"/>
<line x1="381.3" y1="308.4" x2="385.3" y2="308.4" stroke="#333" stroke-width="0.8"/>
<text x="404.0" y="311.0" font-size="6.2" font-weight="bold" font-style="normal" text-anchor="start" fill="#3a3a3a" >+/+</text>
<text x="458.4" y="311.0" font-size="6.1" font-weight="bold" font-style="normal" text-anchor="middle" fill="#3a3a3a" >19.6</text></svg>
</body></html>
